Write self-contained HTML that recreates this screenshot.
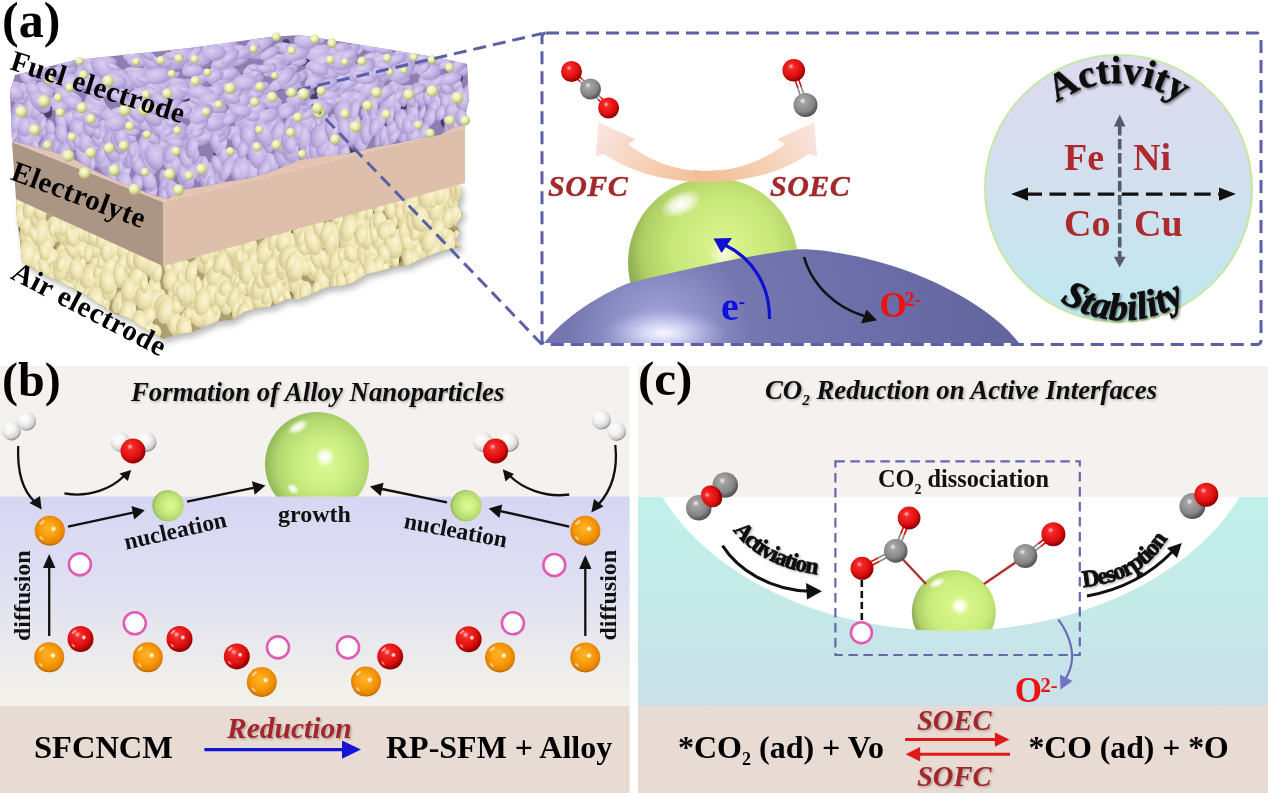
<!DOCTYPE html>
<html><head><meta charset="utf-8">
<style>
html,body{margin:0;padding:0;background:#fff;width:1268px;height:796px;overflow:hidden}
svg{display:block;will-change:transform}
text{font-family:"Liberation Serif",serif;font-weight:bold}
</style></head><body>
<svg width="1268" height="796" viewBox="0 0 1268 796">
<defs>
 <radialGradient id="gG" cx="0.55" cy="0.5" r="0.55" fx="0.58" fy="0.5">
  <stop offset="0" stop-color="#dcfa94"/><stop offset="0.45" stop-color="#cbee80"/><stop offset="0.8" stop-color="#b4d870"/><stop offset="1" stop-color="#90b65a"/>
 </radialGradient>
 <radialGradient id="gR" cx="0.42" cy="0.38" r="0.62" fx="0.38" fy="0.32">
  <stop offset="0" stop-color="#ffc0c0"/><stop offset="0.2" stop-color="#f42a2a"/><stop offset="0.72" stop-color="#dc0c0c"/><stop offset="1" stop-color="#880000"/>
 </radialGradient>
 <radialGradient id="gO" cx="0.5" cy="0.45" r="0.56" fx="0.45" fy="0.4">
  <stop offset="0" stop-color="#ffb52a"/><stop offset="0.55" stop-color="#f89a0a"/><stop offset="0.86" stop-color="#e48400"/><stop offset="1" stop-color="#a85a00"/>
 </radialGradient>
 <radialGradient id="gC" cx="0.42" cy="0.38" r="0.62" fx="0.38" fy="0.32">
  <stop offset="0" stop-color="#f4f4f4"/><stop offset="0.2" stop-color="#a4a4a4"/><stop offset="0.7" stop-color="#868686"/><stop offset="1" stop-color="#505050"/>
 </radialGradient>
 <radialGradient id="gH" cx="0.42" cy="0.38" r="0.62" fx="0.35" fy="0.3">
  <stop offset="0" stop-color="#ffffff"/><stop offset="0.5" stop-color="#f2f2f2"/><stop offset="0.85" stop-color="#cfcfcf"/><stop offset="1" stop-color="#8a8a8a"/>
 </radialGradient>
 <radialGradient id="gY" cx="0.42" cy="0.38" r="0.62" fx="0.35" fy="0.3">
  <stop offset="0" stop-color="#fbfde0"/><stop offset="0.5" stop-color="#e4ec9e"/><stop offset="1" stop-color="#b4bd6a"/>
 </radialGradient>
 <radialGradient id="gDome" gradientUnits="userSpaceOnUse" cx="660" cy="335" r="360">
  <stop offset="0" stop-color="#b4b6e6"/><stop offset="0.1" stop-color="#9496cc"/><stop offset="0.25" stop-color="#7577b1"/><stop offset="0.5" stop-color="#6e70ab"/><stop offset="1" stop-color="#62649c"/>
 </radialGradient>
 <radialGradient id="gDomeHi"><stop offset="0" stop-color="#f8f8ff" stop-opacity="1"/><stop offset="0.35" stop-color="#e0e0fa" stop-opacity="0.8"/><stop offset="1" stop-color="#c0c0f0" stop-opacity="0"/></radialGradient>
 <radialGradient id="gSpot"><stop offset="0" stop-color="#fffbe8" stop-opacity="0.95"/><stop offset="1" stop-color="#fffbe8" stop-opacity="0"/></radialGradient>
 <linearGradient id="gCirc" x1="0" y1="0" x2="0" y2="1">
  <stop offset="0" stop-color="#dedaf0"/><stop offset="0.5" stop-color="#d2e0ee"/><stop offset="1" stop-color="#bde9ef"/>
 </linearGradient>
 <linearGradient id="gBand" x1="0" y1="0" x2="0" y2="1">
  <stop offset="0" stop-color="#d6d6f3"/><stop offset="0.45" stop-color="#e0e0f2"/><stop offset="0.85" stop-color="#efeeea"/><stop offset="1" stop-color="#f3f1eb"/>
 </linearGradient>
 <linearGradient id="gCyan" x1="0" y1="0" x2="0" y2="1">
  <stop offset="0" stop-color="#c0f0ea"/><stop offset="0.5" stop-color="#c4eae8"/><stop offset="1" stop-color="#cbdfea"/>
 </linearGradient>
 <linearGradient id="gPeachL" gradientUnits="userSpaceOnUse" x1="598" y1="130" x2="705" y2="180">
  <stop offset="0" stop-color="#f9e4e0"/><stop offset="0.5" stop-color="#f6d0b4"/><stop offset="1" stop-color="#f2bf96"/>
 </linearGradient>
 <linearGradient id="gPeachR" gradientUnits="userSpaceOnUse" x1="815" y1="130" x2="708" y2="180">
  <stop offset="0" stop-color="#f9e4e0"/><stop offset="0.5" stop-color="#f6d0b4"/><stop offset="1" stop-color="#f2bf96"/>
 </linearGradient>
 <radialGradient id="gGa" gradientUnits="userSpaceOnUse" cx="725" cy="250" r="100" fx="722" fy="245">
  <stop offset="0" stop-color="#dcf590"/><stop offset="0.5" stop-color="#c8e87a"/><stop offset="0.82" stop-color="#b0d066"/><stop offset="1" stop-color="#8aa850"/>
 </radialGradient>
 <linearGradient id="gPeach" gradientUnits="userSpaceOnUse" x1="705" y1="120" x2="705" y2="180">
  <stop offset="0" stop-color="#fbe6e0"/><stop offset="1" stop-color="#f4c49c"/>
 </linearGradient>
 <filter id="texP" x="0" y="0" width="100%" height="100%" filterUnits="objectBoundingBox" color-interpolation-filters="sRGB">
  <feTurbulence type="fractalNoise" baseFrequency="0.05 0.04" numOctaves="2" seed="7" result="n"/>
  <feDiffuseLighting in="n" surfaceScale="8" diffuseConstant="1.15" lighting-color="#ffffff" result="l"><feDistantLight azimuth="235" elevation="52"/></feDiffuseLighting>
  <feFlood flood-color="#bdb0dc" result="f"/>
  <feComposite in="l" in2="f" operator="arithmetic" k1="0.5" k3="0.56" result="o"/>
  <feColorMatrix in="n" type="matrix" values="0 0 0 0 0.36  0 0 0 0 0.3  0 0 0 0 0.48  -22 0 0 0 6.2" result="d"/>
  <feGaussianBlur in="d" stdDeviation="0.6" result="db"/>
  <feComposite in="db" in2="o" operator="over" result="o2"/>
  <feComposite in="o2" in2="SourceAlpha" operator="in"/>
 </filter>
 <filter id="texY" x="0" y="0" width="100%" height="100%" filterUnits="objectBoundingBox" color-interpolation-filters="sRGB">
  <feTurbulence type="fractalNoise" baseFrequency="0.05 0.04" numOctaves="2" seed="11" result="n"/>
  <feDiffuseLighting in="n" surfaceScale="8" diffuseConstant="1.15" lighting-color="#ffffff" result="l"><feDistantLight azimuth="235" elevation="52"/></feDiffuseLighting>
  <feFlood flood-color="#eee6b0" result="f"/>
  <feComposite in="l" in2="f" operator="arithmetic" k1="0.5" k3="0.56" result="o"/>
  <feColorMatrix in="n" type="matrix" values="0 0 0 0 0.45  0 0 0 0 0.41  0 0 0 0 0.25  -22 0 0 0 6.2" result="d"/>
  <feGaussianBlur in="d" stdDeviation="0.6" result="db"/>
  <feComposite in="db" in2="o" operator="over" result="o2"/>
  <feComposite in="o2" in2="SourceAlpha" operator="in"/>
 </filter>
 <radialGradient id="gYb" cx="0.4" cy="0.35" r="0.65"><stop offset="0" stop-color="#fbfde6"/><stop offset="0.5" stop-color="#e6eca8"/><stop offset="1" stop-color="#aab070"/></radialGradient>
 <filter id="sh2" x="-5%" y="-20%" width="110%" height="150%"><feDropShadow dx="1.2" dy="1.2" stdDeviation="1" flood-color="#000" flood-opacity="0.3"/></filter>
 <radialGradient id="gG2" gradientUnits="userSpaceOnUse" cx="958" cy="607" r="46" fx="960" fy="606">
  <stop offset="0" stop-color="#ffffff"/><stop offset="0.09" stop-color="#fcffe0"/><stop offset="0.2" stop-color="#d6f58a"/><stop offset="0.65" stop-color="#c8ec7a"/><stop offset="0.9" stop-color="#aed06a"/><stop offset="1" stop-color="#90b058"/>
 </radialGradient>
 <radialGradient id="gWh"><stop offset="0" stop-color="#ffffff" stop-opacity="1"/><stop offset="0.5" stop-color="#ffffff" stop-opacity="0.7"/><stop offset="1" stop-color="#ffffff" stop-opacity="0"/></radialGradient>
 <radialGradient id="gPB" cx="0.4" cy="0.35" r="0.7"><stop offset="0" stop-color="#dcd0f2"/><stop offset="0.55" stop-color="#c4b5e5"/><stop offset="1" stop-color="#a292ca"/></radialGradient>
 <radialGradient id="gYB" cx="0.4" cy="0.35" r="0.7"><stop offset="0" stop-color="#fbf5d4"/><stop offset="0.55" stop-color="#eee4b0"/><stop offset="1" stop-color="#cfc290"/></radialGradient>
 <filter id="soft" x="-2%" y="-2%" width="104%" height="104%"><feGaussianBlur stdDeviation="0.7"/></filter>
 <filter id="blur3" x="-10%" y="-10%" width="120%" height="130%"><feGaussianBlur stdDeviation="3"/></filter>
 <filter id="sh" x="-10%" y="-10%" width="130%" height="130%"><feDropShadow dx="1.5" dy="1.5" stdDeviation="1.2" flood-color="#000" flood-opacity="0.45"/></filter>
 <marker id="ahK" viewBox="0 0 10 10" refX="8" refY="5" markerWidth="5" markerHeight="5" orient="auto"><path d="M0,0 L10,5 L0,10 z" fill="#111"/></marker>
</defs>

<!-- ============ PANEL (a) ============ -->
<g id="pa">
 <clipPath id="cpY"><path d="M16.0,199.0 L163.0,266.0 L460.0,183.0 L461.0,196.0 L457.0,205.0 L463.0,214.0 L456.0,224.0 L460.0,232.0 L455.0,240.0 L462.0,247.0 L447.9,249.1 L434.6,253.6 L420.4,259.0 L408.5,265.3 L394.6,266.5 L380.5,270.9 L366.2,274.2 L352.7,282.7 L340.3,286.2 L326.7,287.2 L312.1,293.7 L299.4,299.0 L286.1,299.2 L271.9,306.4 L258.1,308.1 L244.5,311.8 L231.8,320.0 L217.5,321.2 L204.6,326.8 L190.9,332.4 L176.6,334.4 L163.0,339.0 L151.4,332.3 L138.8,325.3 L128.4,317.7 L115.1,313.9 L103.8,307.1 L92.4,299.8 L81.7,292.7 L68.8,286.4 L57.5,280.3 L45.2,275.9 L33.4,268.7 L22.0,262.0 L20.0,240.0 L17.0,220.0 Z"/></clipPath>
 <clipPath id="cpP"><path d="M10,92 L15,75 L75,60 L190,48 L270,37 L300,35 L380,48 L440,58 L467,64 L469,100 L466,112 L468,124 L452,128 L440,135 L420,138 L400,143 L380,146 L350,153 L325,156 L300,160 L275,170 L250,178 L225,182 L200,187 L180,190 L168,199 L150,194 L120,182 L95,171 L70,157 L40,148 L12,141 Z"/></clipPath>
 <path d="M16.0,199.0 L163.0,266.0 L460.0,183.0 L461.0,196.0 L457.0,205.0 L463.0,214.0 L456.0,224.0 L460.0,232.0 L455.0,240.0 L462.0,247.0 L447.9,249.1 L434.6,253.6 L420.4,259.0 L408.5,265.3 L394.6,266.5 L380.5,270.9 L366.2,274.2 L352.7,282.7 L340.3,286.2 L326.7,287.2 L312.1,293.7 L299.4,299.0 L286.1,299.2 L271.9,306.4 L258.1,308.1 L244.5,311.8 L231.8,320.0 L217.5,321.2 L204.6,326.8 L190.9,332.4 L176.6,334.4 L163.0,339.0 L151.4,332.3 L138.8,325.3 L128.4,317.7 L115.1,313.9 L103.8,307.1 L92.4,299.8 L81.7,292.7 L68.8,286.4 L57.5,280.3 L45.2,275.9 L33.4,268.7 L22.0,262.0 L20.0,240.0 L17.0,220.0 Z" fill="#000" opacity="0.28" transform="translate(3,4)" filter="url(#blur3)"/>
 <path d="M16.0,199.0 L163.0,266.0 L460.0,183.0 L461.0,196.0 L457.0,205.0 L463.0,214.0 L456.0,224.0 L460.0,232.0 L455.0,240.0 L462.0,247.0 L447.9,249.1 L434.6,253.6 L420.4,259.0 L408.5,265.3 L394.6,266.5 L380.5,270.9 L366.2,274.2 L352.7,282.7 L340.3,286.2 L326.7,287.2 L312.1,293.7 L299.4,299.0 L286.1,299.2 L271.9,306.4 L258.1,308.1 L244.5,311.8 L231.8,320.0 L217.5,321.2 L204.6,326.8 L190.9,332.4 L176.6,334.4 L163.0,339.0 L151.4,332.3 L138.8,325.3 L128.4,317.7 L115.1,313.9 L103.8,307.1 L92.4,299.8 L81.7,292.7 L68.8,286.4 L57.5,280.3 L45.2,275.9 L33.4,268.7 L22.0,262.0 L20.0,240.0 L17.0,220.0 Z" fill="#aca070"/>
 <g clip-path="url(#cpY)"><g fill="#6e6234"><ellipse cx="300" cy="229" rx="4" ry="2" transform="rotate(32 300 229)"/><ellipse cx="33" cy="268" rx="4" ry="3" transform="rotate(1 33 268)"/><ellipse cx="181" cy="299" rx="3" ry="2" transform="rotate(59 181 299)"/><ellipse cx="231" cy="282" rx="3" ry="3" transform="rotate(49 231 282)"/><ellipse cx="52" cy="222" rx="4" ry="2" transform="rotate(153 52 222)"/><ellipse cx="251" cy="261" rx="5" ry="4" transform="rotate(8 251 261)"/><ellipse cx="155" cy="274" rx="3" ry="2" transform="rotate(172 155 274)"/><ellipse cx="260" cy="288" rx="6" ry="5" transform="rotate(147 260 288)"/><ellipse cx="329" cy="232" rx="7" ry="5" transform="rotate(56 329 232)"/><ellipse cx="367" cy="218" rx="4" ry="3" transform="rotate(10 367 218)"/><ellipse cx="405" cy="245" rx="5" ry="4" transform="rotate(162 405 245)"/><ellipse cx="54" cy="272" rx="3" ry="2" transform="rotate(70 54 272)"/><ellipse cx="376" cy="211" rx="6" ry="3" transform="rotate(134 376 211)"/><ellipse cx="433" cy="224" rx="4" ry="2" transform="rotate(155 433 224)"/><ellipse cx="85" cy="297" rx="3" ry="2" transform="rotate(97 85 297)"/><ellipse cx="264" cy="296" rx="4" ry="3" transform="rotate(137 264 296)"/><ellipse cx="380" cy="254" rx="5" ry="2" transform="rotate(83 380 254)"/><ellipse cx="416" cy="236" rx="6" ry="5" transform="rotate(173 416 236)"/><ellipse cx="320" cy="235" rx="6" ry="3" transform="rotate(102 320 235)"/><ellipse cx="157" cy="292" rx="4" ry="2" transform="rotate(102 157 292)"/><ellipse cx="437" cy="207" rx="4" ry="2" transform="rotate(57 437 207)"/><ellipse cx="233" cy="312" rx="4" ry="3" transform="rotate(78 233 312)"/><ellipse cx="271" cy="262" rx="5" ry="3" transform="rotate(111 271 262)"/><ellipse cx="195" cy="306" rx="5" ry="3" transform="rotate(178 195 306)"/><ellipse cx="69" cy="291" rx="3" ry="3" transform="rotate(16 69 291)"/><ellipse cx="148" cy="281" rx="3" ry="2" transform="rotate(180 148 281)"/><ellipse cx="341" cy="244" rx="7" ry="5" transform="rotate(146 341 244)"/><ellipse cx="330" cy="281" rx="3" ry="3" transform="rotate(179 330 281)"/><ellipse cx="279" cy="240" rx="6" ry="3" transform="rotate(51 279 240)"/><ellipse cx="396" cy="260" rx="6" ry="5" transform="rotate(120 396 260)"/><ellipse cx="50" cy="248" rx="7" ry="5" transform="rotate(64 50 248)"/><ellipse cx="339" cy="225" rx="6" ry="4" transform="rotate(151 339 225)"/><ellipse cx="291" cy="234" rx="7" ry="4" transform="rotate(142 291 234)"/><ellipse cx="389" cy="242" rx="5" ry="3" transform="rotate(68 389 242)"/><ellipse cx="211" cy="295" rx="5" ry="2" transform="rotate(117 211 295)"/><ellipse cx="246" cy="265" rx="5" ry="4" transform="rotate(118 246 265)"/><ellipse cx="311" cy="262" rx="5" ry="3" transform="rotate(122 311 262)"/><ellipse cx="36" cy="239" rx="5" ry="3" transform="rotate(36 36 239)"/><ellipse cx="119" cy="253" rx="4" ry="2" transform="rotate(88 119 253)"/><ellipse cx="102" cy="307" rx="5" ry="4" transform="rotate(13 102 307)"/><ellipse cx="199" cy="313" rx="5" ry="3" transform="rotate(33 199 313)"/><ellipse cx="21" cy="230" rx="3" ry="2" transform="rotate(62 21 230)"/><ellipse cx="450" cy="220" rx="6" ry="4" transform="rotate(45 450 220)"/><ellipse cx="34" cy="219" rx="7" ry="5" transform="rotate(60 34 219)"/><ellipse cx="396" cy="234" rx="7" ry="4" transform="rotate(157 396 234)"/><ellipse cx="75" cy="245" rx="4" ry="3" transform="rotate(156 75 245)"/><ellipse cx="75" cy="247" rx="4" ry="2" transform="rotate(23 75 247)"/><ellipse cx="47" cy="230" rx="5" ry="4" transform="rotate(117 47 230)"/><ellipse cx="356" cy="235" rx="4" ry="3" transform="rotate(42 356 235)"/><ellipse cx="23" cy="226" rx="7" ry="3" transform="rotate(91 23 226)"/><ellipse cx="118" cy="303" rx="3" ry="2" transform="rotate(130 118 303)"/><ellipse cx="180" cy="281" rx="5" ry="3" transform="rotate(68 180 281)"/><ellipse cx="398" cy="231" rx="5" ry="2" transform="rotate(11 398 231)"/><ellipse cx="411" cy="239" rx="4" ry="4" transform="rotate(130 411 239)"/><ellipse cx="84" cy="268" rx="5" ry="3" transform="rotate(49 84 268)"/><ellipse cx="282" cy="269" rx="6" ry="4" transform="rotate(32 282 269)"/><ellipse cx="366" cy="259" rx="4" ry="2" transform="rotate(178 366 259)"/><ellipse cx="239" cy="283" rx="5" ry="4" transform="rotate(96 239 283)"/><ellipse cx="109" cy="254" rx="5" ry="3" transform="rotate(117 109 254)"/><ellipse cx="378" cy="207" rx="6" ry="5" transform="rotate(178 378 207)"/><ellipse cx="72" cy="285" rx="4" ry="3" transform="rotate(92 72 285)"/><ellipse cx="423" cy="229" rx="4" ry="2" transform="rotate(52 423 229)"/><ellipse cx="74" cy="283" rx="3" ry="2" transform="rotate(145 74 283)"/><ellipse cx="397" cy="236" rx="6" ry="5" transform="rotate(117 397 236)"/><ellipse cx="244" cy="268" rx="4" ry="2" transform="rotate(4 244 268)"/><ellipse cx="254" cy="284" rx="5" ry="2" transform="rotate(134 254 284)"/><ellipse cx="153" cy="290" rx="6" ry="3" transform="rotate(70 153 290)"/><ellipse cx="187" cy="269" rx="6" ry="3" transform="rotate(68 187 269)"/><ellipse cx="428" cy="211" rx="4" ry="3" transform="rotate(112 428 211)"/><ellipse cx="228" cy="255" rx="3" ry="2" transform="rotate(48 228 255)"/><ellipse cx="291" cy="295" rx="3" ry="1" transform="rotate(71 291 295)"/><ellipse cx="88" cy="277" rx="4" ry="2" transform="rotate(85 88 277)"/><ellipse cx="451" cy="233" rx="4" ry="2" transform="rotate(119 451 233)"/><ellipse cx="333" cy="266" rx="3" ry="3" transform="rotate(23 333 266)"/><ellipse cx="147" cy="269" rx="5" ry="4" transform="rotate(27 147 269)"/><ellipse cx="66" cy="293" rx="6" ry="3" transform="rotate(6 66 293)"/><ellipse cx="104" cy="273" rx="3" ry="3" transform="rotate(3 104 273)"/><ellipse cx="187" cy="311" rx="4" ry="3" transform="rotate(103 187 311)"/><ellipse cx="91" cy="300" rx="5" ry="3" transform="rotate(85 91 300)"/><ellipse cx="269" cy="275" rx="5" ry="4" transform="rotate(85 269 275)"/></g><g fill="url(#gYB)" filter="url(#soft)"><ellipse cx="160" cy="299" rx="10" ry="6" transform="rotate(99 160 299)"/><ellipse cx="250" cy="305" rx="8" ry="3" transform="rotate(101 250 305)"/><ellipse cx="370" cy="263" rx="11" ry="5" transform="rotate(66 370 263)"/><ellipse cx="386" cy="243" rx="13" ry="6" transform="rotate(87 386 243)"/><ellipse cx="259" cy="301" rx="11" ry="6" transform="rotate(74 259 301)"/><ellipse cx="304" cy="252" rx="12" ry="5" transform="rotate(80 304 252)"/><ellipse cx="368" cy="265" rx="9" ry="5" transform="rotate(65 368 265)"/><ellipse cx="257" cy="292" rx="8" ry="4" transform="rotate(96 257 292)"/><ellipse cx="197" cy="287" rx="9" ry="6" transform="rotate(75 197 287)"/><ellipse cx="234" cy="249" rx="11" ry="4" transform="rotate(77 234 249)"/><ellipse cx="265" cy="301" rx="13" ry="7" transform="rotate(100 265 301)"/><ellipse cx="234" cy="263" rx="10" ry="4" transform="rotate(75 234 263)"/><ellipse cx="374" cy="264" rx="7" ry="4" transform="rotate(107 374 264)"/><ellipse cx="447" cy="208" rx="11" ry="6" transform="rotate(73 447 208)"/><ellipse cx="306" cy="290" rx="9" ry="6" transform="rotate(86 306 290)"/><ellipse cx="307" cy="256" rx="12" ry="8" transform="rotate(80 307 256)"/><ellipse cx="353" cy="278" rx="8" ry="5" transform="rotate(74 353 278)"/><ellipse cx="176" cy="301" rx="8" ry="3" transform="rotate(86 176 301)"/><ellipse cx="82" cy="301" rx="12" ry="6" transform="rotate(69 82 301)"/><ellipse cx="358" cy="262" rx="14" ry="7" transform="rotate(87 358 262)"/><ellipse cx="413" cy="236" rx="7" ry="4" transform="rotate(96 413 236)"/><ellipse cx="86" cy="290" rx="10" ry="5" transform="rotate(79 86 290)"/><ellipse cx="175" cy="301" rx="11" ry="5" transform="rotate(68 175 301)"/><ellipse cx="37" cy="225" rx="10" ry="5" transform="rotate(106 37 225)"/><ellipse cx="287" cy="269" rx="7" ry="4" transform="rotate(91 287 269)"/><ellipse cx="80" cy="259" rx="10" ry="6" transform="rotate(99 80 259)"/><ellipse cx="135" cy="280" rx="9" ry="5" transform="rotate(75 135 280)"/><ellipse cx="377" cy="267" rx="13" ry="9" transform="rotate(105 377 267)"/><ellipse cx="308" cy="242" rx="13" ry="9" transform="rotate(92 308 242)"/><ellipse cx="410" cy="227" rx="7" ry="5" transform="rotate(84 410 227)"/><ellipse cx="365" cy="254" rx="14" ry="6" transform="rotate(89 365 254)"/><ellipse cx="431" cy="234" rx="12" ry="5" transform="rotate(69 431 234)"/><ellipse cx="366" cy="263" rx="12" ry="7" transform="rotate(93 366 263)"/><ellipse cx="46" cy="250" rx="9" ry="6" transform="rotate(67 46 250)"/><ellipse cx="109" cy="278" rx="11" ry="6" transform="rotate(82 109 278)"/><ellipse cx="73" cy="295" rx="10" ry="6" transform="rotate(106 73 295)"/><ellipse cx="43" cy="249" rx="9" ry="6" transform="rotate(96 43 249)"/><ellipse cx="99" cy="254" rx="7" ry="4" transform="rotate(68 99 254)"/><ellipse cx="72" cy="263" rx="11" ry="5" transform="rotate(94 72 263)"/><ellipse cx="152" cy="296" rx="7" ry="5" transform="rotate(87 152 296)"/><ellipse cx="429" cy="214" rx="10" ry="4" transform="rotate(88 429 214)"/><ellipse cx="451" cy="209" rx="8" ry="5" transform="rotate(97 451 209)"/><ellipse cx="402" cy="213" rx="9" ry="5" transform="rotate(96 402 213)"/><ellipse cx="297" cy="270" rx="9" ry="4" transform="rotate(69 297 270)"/><ellipse cx="450" cy="202" rx="14" ry="8" transform="rotate(65 450 202)"/><ellipse cx="215" cy="258" rx="9" ry="6" transform="rotate(109 215 258)"/><ellipse cx="238" cy="312" rx="9" ry="6" transform="rotate(104 238 312)"/><ellipse cx="170" cy="302" rx="9" ry="4" transform="rotate(86 170 302)"/><ellipse cx="124" cy="261" rx="13" ry="7" transform="rotate(110 124 261)"/><ellipse cx="313" cy="270" rx="11" ry="7" transform="rotate(80 313 270)"/><ellipse cx="96" cy="262" rx="9" ry="6" transform="rotate(97 96 262)"/><ellipse cx="293" cy="244" rx="12" ry="6" transform="rotate(71 293 244)"/><ellipse cx="50" cy="281" rx="11" ry="7" transform="rotate(90 50 281)"/><ellipse cx="410" cy="250" rx="13" ry="8" transform="rotate(105 410 250)"/><ellipse cx="112" cy="259" rx="13" ry="8" transform="rotate(94 112 259)"/><ellipse cx="142" cy="281" rx="12" ry="6" transform="rotate(80 142 281)"/><ellipse cx="458" cy="193" rx="11" ry="7" transform="rotate(113 458 193)"/><ellipse cx="342" cy="224" rx="8" ry="3" transform="rotate(78 342 224)"/><ellipse cx="65" cy="264" rx="14" ry="7" transform="rotate(92 65 264)"/><ellipse cx="347" cy="235" rx="10" ry="7" transform="rotate(68 347 235)"/><ellipse cx="447" cy="202" rx="8" ry="4" transform="rotate(104 447 202)"/><ellipse cx="268" cy="289" rx="7" ry="3" transform="rotate(94 268 289)"/><ellipse cx="50" cy="230" rx="10" ry="5" transform="rotate(74 50 230)"/><ellipse cx="432" cy="198" rx="11" ry="6" transform="rotate(107 432 198)"/><ellipse cx="284" cy="281" rx="13" ry="9" transform="rotate(72 284 281)"/><ellipse cx="330" cy="237" rx="7" ry="5" transform="rotate(71 330 237)"/><ellipse cx="132" cy="265" rx="7" ry="5" transform="rotate(101 132 265)"/><ellipse cx="62" cy="282" rx="8" ry="4" transform="rotate(70 62 282)"/><ellipse cx="259" cy="288" rx="13" ry="7" transform="rotate(83 259 288)"/><ellipse cx="104" cy="302" rx="10" ry="4" transform="rotate(75 104 302)"/><ellipse cx="202" cy="318" rx="10" ry="6" transform="rotate(89 202 318)"/><ellipse cx="197" cy="299" rx="8" ry="4" transform="rotate(78 197 299)"/><ellipse cx="99" cy="274" rx="7" ry="3" transform="rotate(78 99 274)"/><ellipse cx="152" cy="263" rx="13" ry="8" transform="rotate(108 152 263)"/><ellipse cx="60" cy="251" rx="9" ry="4" transform="rotate(115 60 251)"/><ellipse cx="259" cy="259" rx="13" ry="9" transform="rotate(106 259 259)"/><ellipse cx="440" cy="227" rx="12" ry="7" transform="rotate(89 440 227)"/><ellipse cx="393" cy="244" rx="13" ry="6" transform="rotate(82 393 244)"/><ellipse cx="129" cy="308" rx="9" ry="4" transform="rotate(86 129 308)"/><ellipse cx="182" cy="271" rx="12" ry="6" transform="rotate(115 182 271)"/><ellipse cx="126" cy="304" rx="8" ry="5" transform="rotate(92 126 304)"/><ellipse cx="415" cy="199" rx="13" ry="9" transform="rotate(83 415 199)"/><ellipse cx="269" cy="242" rx="9" ry="6" transform="rotate(104 269 242)"/><ellipse cx="444" cy="189" rx="11" ry="7" transform="rotate(76 444 189)"/><ellipse cx="98" cy="246" rx="9" ry="5" transform="rotate(103 98 246)"/><ellipse cx="50" cy="246" rx="10" ry="4" transform="rotate(110 50 246)"/><ellipse cx="46" cy="268" rx="9" ry="6" transform="rotate(97 46 268)"/><ellipse cx="290" cy="261" rx="11" ry="6" transform="rotate(110 290 261)"/><ellipse cx="34" cy="216" rx="13" ry="6" transform="rotate(82 34 216)"/><ellipse cx="264" cy="298" rx="9" ry="6" transform="rotate(83 264 298)"/><ellipse cx="154" cy="272" rx="11" ry="6" transform="rotate(67 154 272)"/><ellipse cx="364" cy="277" rx="13" ry="9" transform="rotate(78 364 277)"/><ellipse cx="298" cy="235" rx="8" ry="4" transform="rotate(77 298 235)"/><ellipse cx="299" cy="288" rx="11" ry="8" transform="rotate(65 299 288)"/><ellipse cx="178" cy="331" rx="10" ry="7" transform="rotate(74 178 331)"/><ellipse cx="171" cy="312" rx="9" ry="6" transform="rotate(95 171 312)"/><ellipse cx="329" cy="259" rx="11" ry="6" transform="rotate(79 329 259)"/><ellipse cx="62" cy="263" rx="14" ry="9" transform="rotate(98 62 263)"/><ellipse cx="77" cy="287" rx="14" ry="9" transform="rotate(107 77 287)"/><ellipse cx="154" cy="301" rx="14" ry="9" transform="rotate(114 154 301)"/><ellipse cx="332" cy="248" rx="11" ry="7" transform="rotate(94 332 248)"/><ellipse cx="357" cy="215" rx="12" ry="8" transform="rotate(65 357 215)"/><ellipse cx="440" cy="250" rx="13" ry="5" transform="rotate(81 440 250)"/><ellipse cx="61" cy="225" rx="10" ry="6" transform="rotate(102 61 225)"/><ellipse cx="252" cy="302" rx="13" ry="7" transform="rotate(99 252 302)"/><ellipse cx="79" cy="288" rx="11" ry="5" transform="rotate(110 79 288)"/><ellipse cx="444" cy="197" rx="12" ry="7" transform="rotate(111 444 197)"/><ellipse cx="156" cy="331" rx="7" ry="5" transform="rotate(66 156 331)"/><ellipse cx="156" cy="277" rx="10" ry="4" transform="rotate(107 156 277)"/><ellipse cx="236" cy="312" rx="7" ry="3" transform="rotate(76 236 312)"/><ellipse cx="186" cy="320" rx="13" ry="6" transform="rotate(102 186 320)"/><ellipse cx="173" cy="307" rx="12" ry="5" transform="rotate(88 173 307)"/><ellipse cx="264" cy="294" rx="10" ry="5" transform="rotate(106 264 294)"/><ellipse cx="447" cy="242" rx="13" ry="9" transform="rotate(100 447 242)"/><ellipse cx="178" cy="303" rx="11" ry="7" transform="rotate(90 178 303)"/><ellipse cx="301" cy="293" rx="11" ry="5" transform="rotate(93 301 293)"/><ellipse cx="205" cy="292" rx="12" ry="6" transform="rotate(83 205 292)"/><ellipse cx="234" cy="253" rx="14" ry="9" transform="rotate(108 234 253)"/><ellipse cx="90" cy="292" rx="11" ry="6" transform="rotate(90 90 292)"/><ellipse cx="197" cy="292" rx="11" ry="5" transform="rotate(90 197 292)"/><ellipse cx="123" cy="275" rx="10" ry="6" transform="rotate(113 123 275)"/><ellipse cx="183" cy="276" rx="9" ry="6" transform="rotate(92 183 276)"/><ellipse cx="273" cy="287" rx="11" ry="8" transform="rotate(87 273 287)"/><ellipse cx="179" cy="304" rx="11" ry="5" transform="rotate(111 179 304)"/><ellipse cx="290" cy="263" rx="9" ry="4" transform="rotate(87 290 263)"/><ellipse cx="259" cy="277" rx="10" ry="7" transform="rotate(107 259 277)"/><ellipse cx="320" cy="238" rx="12" ry="6" transform="rotate(100 320 238)"/><ellipse cx="241" cy="284" rx="13" ry="9" transform="rotate(89 241 284)"/><ellipse cx="187" cy="298" rx="12" ry="5" transform="rotate(90 187 298)"/><ellipse cx="137" cy="287" rx="8" ry="4" transform="rotate(78 137 287)"/><ellipse cx="137" cy="273" rx="13" ry="8" transform="rotate(97 137 273)"/><ellipse cx="359" cy="243" rx="10" ry="6" transform="rotate(75 359 243)"/><ellipse cx="430" cy="215" rx="8" ry="5" transform="rotate(82 430 215)"/><ellipse cx="91" cy="280" rx="11" ry="6" transform="rotate(91 91 280)"/><ellipse cx="389" cy="256" rx="11" ry="5" transform="rotate(69 389 256)"/><ellipse cx="217" cy="292" rx="9" ry="6" transform="rotate(79 217 292)"/><ellipse cx="234" cy="256" rx="14" ry="6" transform="rotate(78 234 256)"/><ellipse cx="300" cy="238" rx="9" ry="4" transform="rotate(111 300 238)"/><ellipse cx="212" cy="275" rx="9" ry="6" transform="rotate(70 212 275)"/><ellipse cx="446" cy="251" rx="13" ry="5" transform="rotate(77 446 251)"/><ellipse cx="26" cy="221" rx="10" ry="5" transform="rotate(84 26 221)"/><ellipse cx="247" cy="274" rx="11" ry="7" transform="rotate(88 247 274)"/><ellipse cx="62" cy="228" rx="10" ry="5" transform="rotate(76 62 228)"/><ellipse cx="405" cy="228" rx="11" ry="6" transform="rotate(72 405 228)"/><ellipse cx="258" cy="300" rx="13" ry="9" transform="rotate(71 258 300)"/><ellipse cx="219" cy="290" rx="10" ry="7" transform="rotate(90 219 290)"/><ellipse cx="187" cy="295" rx="13" ry="7" transform="rotate(108 187 295)"/><ellipse cx="358" cy="247" rx="12" ry="7" transform="rotate(71 358 247)"/><ellipse cx="419" cy="217" rx="12" ry="5" transform="rotate(90 419 217)"/><ellipse cx="147" cy="262" rx="10" ry="5" transform="rotate(87 147 262)"/><ellipse cx="204" cy="262" rx="12" ry="9" transform="rotate(78 204 262)"/><ellipse cx="144" cy="265" rx="7" ry="4" transform="rotate(67 144 265)"/><ellipse cx="282" cy="276" rx="10" ry="7" transform="rotate(81 282 276)"/><ellipse cx="119" cy="302" rx="12" ry="6" transform="rotate(109 119 302)"/><ellipse cx="271" cy="267" rx="13" ry="6" transform="rotate(110 271 267)"/><ellipse cx="299" cy="294" rx="11" ry="5" transform="rotate(93 299 294)"/><ellipse cx="126" cy="307" rx="12" ry="5" transform="rotate(100 126 307)"/><ellipse cx="241" cy="246" rx="11" ry="7" transform="rotate(95 241 246)"/><ellipse cx="352" cy="256" rx="13" ry="8" transform="rotate(90 352 256)"/><ellipse cx="41" cy="265" rx="10" ry="6" transform="rotate(79 41 265)"/><ellipse cx="425" cy="259" rx="13" ry="6" transform="rotate(109 425 259)"/><ellipse cx="260" cy="269" rx="10" ry="7" transform="rotate(93 260 269)"/><ellipse cx="43" cy="239" rx="7" ry="4" transform="rotate(70 43 239)"/><ellipse cx="425" cy="231" rx="9" ry="5" transform="rotate(80 425 231)"/><ellipse cx="342" cy="228" rx="13" ry="6" transform="rotate(68 342 228)"/><ellipse cx="129" cy="286" rx="10" ry="5" transform="rotate(79 129 286)"/><ellipse cx="257" cy="287" rx="13" ry="6" transform="rotate(93 257 287)"/><ellipse cx="434" cy="246" rx="10" ry="7" transform="rotate(94 434 246)"/><ellipse cx="287" cy="265" rx="12" ry="6" transform="rotate(84 287 265)"/><ellipse cx="57" cy="231" rx="13" ry="6" transform="rotate(109 57 231)"/><ellipse cx="105" cy="301" rx="12" ry="5" transform="rotate(91 105 301)"/><ellipse cx="440" cy="222" rx="12" ry="7" transform="rotate(93 440 222)"/><ellipse cx="308" cy="236" rx="13" ry="6" transform="rotate(106 308 236)"/><ellipse cx="389" cy="207" rx="11" ry="6" transform="rotate(71 389 207)"/><ellipse cx="429" cy="235" rx="11" ry="5" transform="rotate(113 429 235)"/><ellipse cx="68" cy="289" rx="10" ry="6" transform="rotate(76 68 289)"/><ellipse cx="349" cy="245" rx="11" ry="5" transform="rotate(98 349 245)"/><ellipse cx="207" cy="310" rx="9" ry="5" transform="rotate(69 207 310)"/><ellipse cx="26" cy="213" rx="7" ry="4" transform="rotate(84 26 213)"/><ellipse cx="391" cy="238" rx="9" ry="5" transform="rotate(83 391 238)"/><ellipse cx="363" cy="235" rx="11" ry="5" transform="rotate(86 363 235)"/><ellipse cx="429" cy="220" rx="10" ry="7" transform="rotate(88 429 220)"/><ellipse cx="383" cy="267" rx="9" ry="6" transform="rotate(98 383 267)"/><ellipse cx="226" cy="304" rx="7" ry="4" transform="rotate(108 226 304)"/><ellipse cx="196" cy="302" rx="12" ry="7" transform="rotate(104 196 302)"/><ellipse cx="249" cy="304" rx="8" ry="4" transform="rotate(107 249 304)"/><ellipse cx="330" cy="274" rx="9" ry="4" transform="rotate(86 330 274)"/><ellipse cx="249" cy="245" rx="13" ry="8" transform="rotate(76 249 245)"/><ellipse cx="38" cy="257" rx="11" ry="6" transform="rotate(94 38 257)"/><ellipse cx="36" cy="238" rx="13" ry="6" transform="rotate(74 36 238)"/><ellipse cx="409" cy="245" rx="9" ry="5" transform="rotate(109 409 245)"/><ellipse cx="85" cy="302" rx="9" ry="4" transform="rotate(98 85 302)"/><ellipse cx="91" cy="290" rx="10" ry="4" transform="rotate(79 91 290)"/><ellipse cx="151" cy="308" rx="12" ry="8" transform="rotate(73 151 308)"/><ellipse cx="105" cy="240" rx="9" ry="4" transform="rotate(103 105 240)"/><ellipse cx="69" cy="230" rx="9" ry="5" transform="rotate(112 69 230)"/><ellipse cx="347" cy="250" rx="14" ry="7" transform="rotate(74 347 250)"/><ellipse cx="342" cy="263" rx="12" ry="6" transform="rotate(112 342 263)"/><ellipse cx="154" cy="264" rx="11" ry="6" transform="rotate(107 154 264)"/><ellipse cx="399" cy="208" rx="12" ry="7" transform="rotate(85 399 208)"/><ellipse cx="48" cy="240" rx="10" ry="5" transform="rotate(68 48 240)"/><ellipse cx="384" cy="268" rx="11" ry="6" transform="rotate(83 384 268)"/><ellipse cx="43" cy="253" rx="13" ry="8" transform="rotate(67 43 253)"/><ellipse cx="416" cy="262" rx="7" ry="3" transform="rotate(69 416 262)"/><ellipse cx="400" cy="238" rx="10" ry="7" transform="rotate(74 400 238)"/><ellipse cx="300" cy="262" rx="10" ry="6" transform="rotate(101 300 262)"/><ellipse cx="397" cy="251" rx="7" ry="4" transform="rotate(72 397 251)"/><ellipse cx="131" cy="311" rx="10" ry="5" transform="rotate(99 131 311)"/><ellipse cx="121" cy="309" rx="8" ry="4" transform="rotate(71 121 309)"/><ellipse cx="213" cy="262" rx="7" ry="3" transform="rotate(70 213 262)"/><ellipse cx="135" cy="270" rx="11" ry="5" transform="rotate(73 135 270)"/><ellipse cx="250" cy="274" rx="8" ry="6" transform="rotate(92 250 274)"/><ellipse cx="105" cy="261" rx="7" ry="5" transform="rotate(76 105 261)"/><ellipse cx="322" cy="236" rx="13" ry="8" transform="rotate(90 322 236)"/><ellipse cx="359" cy="272" rx="10" ry="5" transform="rotate(105 359 272)"/><ellipse cx="298" cy="255" rx="14" ry="8" transform="rotate(102 298 255)"/><ellipse cx="83" cy="238" rx="11" ry="5" transform="rotate(115 83 238)"/><ellipse cx="339" cy="223" rx="12" ry="8" transform="rotate(88 339 223)"/><ellipse cx="269" cy="288" rx="9" ry="4" transform="rotate(74 269 288)"/><ellipse cx="250" cy="285" rx="13" ry="6" transform="rotate(73 250 285)"/><ellipse cx="127" cy="260" rx="12" ry="5" transform="rotate(74 127 260)"/><ellipse cx="225" cy="265" rx="8" ry="5" transform="rotate(93 225 265)"/><ellipse cx="105" cy="309" rx="8" ry="4" transform="rotate(82 105 309)"/><ellipse cx="454" cy="205" rx="10" ry="6" transform="rotate(67 454 205)"/><ellipse cx="154" cy="294" rx="9" ry="4" transform="rotate(67 154 294)"/><ellipse cx="371" cy="227" rx="9" ry="6" transform="rotate(113 371 227)"/><ellipse cx="393" cy="257" rx="8" ry="6" transform="rotate(76 393 257)"/><ellipse cx="91" cy="294" rx="14" ry="9" transform="rotate(66 91 294)"/><ellipse cx="61" cy="290" rx="12" ry="5" transform="rotate(110 61 290)"/><ellipse cx="373" cy="269" rx="11" ry="5" transform="rotate(96 373 269)"/><ellipse cx="82" cy="238" rx="9" ry="5" transform="rotate(109 82 238)"/><ellipse cx="98" cy="295" rx="8" ry="4" transform="rotate(90 98 295)"/><ellipse cx="153" cy="310" rx="9" ry="5" transform="rotate(103 153 310)"/><ellipse cx="450" cy="217" rx="12" ry="7" transform="rotate(108 450 217)"/><ellipse cx="173" cy="295" rx="8" ry="5" transform="rotate(79 173 295)"/><ellipse cx="210" cy="277" rx="14" ry="6" transform="rotate(104 210 277)"/><ellipse cx="31" cy="207" rx="12" ry="5" transform="rotate(107 31 207)"/><ellipse cx="418" cy="214" rx="12" ry="7" transform="rotate(114 418 214)"/><ellipse cx="413" cy="222" rx="13" ry="7" transform="rotate(85 413 222)"/><ellipse cx="93" cy="288" rx="14" ry="7" transform="rotate(93 93 288)"/><ellipse cx="90" cy="283" rx="9" ry="6" transform="rotate(67 90 283)"/><ellipse cx="266" cy="254" rx="11" ry="7" transform="rotate(107 266 254)"/><ellipse cx="220" cy="256" rx="8" ry="4" transform="rotate(74 220 256)"/><ellipse cx="137" cy="269" rx="9" ry="4" transform="rotate(71 137 269)"/><ellipse cx="210" cy="253" rx="8" ry="6" transform="rotate(66 210 253)"/><ellipse cx="141" cy="259" rx="10" ry="6" transform="rotate(94 141 259)"/><ellipse cx="230" cy="248" rx="8" ry="3" transform="rotate(68 230 248)"/><ellipse cx="99" cy="280" rx="10" ry="5" transform="rotate(105 99 280)"/><ellipse cx="29" cy="218" rx="13" ry="7" transform="rotate(101 29 218)"/><ellipse cx="150" cy="264" rx="7" ry="4" transform="rotate(71 150 264)"/><ellipse cx="229" cy="267" rx="13" ry="9" transform="rotate(110 229 267)"/><ellipse cx="435" cy="208" rx="13" ry="8" transform="rotate(92 435 208)"/><ellipse cx="212" cy="313" rx="10" ry="7" transform="rotate(111 212 313)"/><ellipse cx="177" cy="268" rx="10" ry="7" transform="rotate(108 177 268)"/><ellipse cx="154" cy="289" rx="12" ry="7" transform="rotate(91 154 289)"/><ellipse cx="229" cy="294" rx="12" ry="8" transform="rotate(76 229 294)"/><ellipse cx="108" cy="267" rx="13" ry="7" transform="rotate(112 108 267)"/><ellipse cx="238" cy="309" rx="13" ry="6" transform="rotate(66 238 309)"/><ellipse cx="192" cy="289" rx="7" ry="5" transform="rotate(96 192 289)"/><ellipse cx="254" cy="268" rx="9" ry="4" transform="rotate(77 254 268)"/><ellipse cx="442" cy="223" rx="9" ry="5" transform="rotate(112 442 223)"/><ellipse cx="51" cy="270" rx="9" ry="4" transform="rotate(105 51 270)"/><ellipse cx="230" cy="272" rx="12" ry="7" transform="rotate(111 230 272)"/><ellipse cx="455" cy="196" rx="12" ry="5" transform="rotate(71 455 196)"/><ellipse cx="239" cy="270" rx="12" ry="7" transform="rotate(69 239 270)"/><ellipse cx="276" cy="288" rx="9" ry="5" transform="rotate(90 276 288)"/><ellipse cx="430" cy="243" rx="12" ry="5" transform="rotate(76 430 243)"/><ellipse cx="307" cy="233" rx="11" ry="7" transform="rotate(93 307 233)"/><ellipse cx="316" cy="272" rx="9" ry="6" transform="rotate(84 316 272)"/><ellipse cx="140" cy="270" rx="11" ry="6" transform="rotate(105 140 270)"/><ellipse cx="83" cy="296" rx="14" ry="9" transform="rotate(67 83 296)"/><ellipse cx="258" cy="300" rx="11" ry="7" transform="rotate(73 258 300)"/><ellipse cx="225" cy="283" rx="7" ry="4" transform="rotate(111 225 283)"/><ellipse cx="283" cy="257" rx="10" ry="6" transform="rotate(82 283 257)"/><ellipse cx="376" cy="269" rx="10" ry="6" transform="rotate(100 376 269)"/><ellipse cx="335" cy="218" rx="7" ry="3" transform="rotate(69 335 218)"/><ellipse cx="226" cy="305" rx="10" ry="7" transform="rotate(83 226 305)"/><ellipse cx="68" cy="275" rx="8" ry="3" transform="rotate(80 68 275)"/><ellipse cx="365" cy="245" rx="8" ry="5" transform="rotate(82 365 245)"/><ellipse cx="88" cy="295" rx="8" ry="5" transform="rotate(87 88 295)"/><ellipse cx="248" cy="251" rx="9" ry="6" transform="rotate(71 248 251)"/><ellipse cx="20" cy="210" rx="11" ry="5" transform="rotate(84 20 210)"/><ellipse cx="42" cy="226" rx="8" ry="5" transform="rotate(76 42 226)"/><ellipse cx="427" cy="210" rx="9" ry="6" transform="rotate(68 427 210)"/><ellipse cx="234" cy="259" rx="9" ry="4" transform="rotate(90 234 259)"/><ellipse cx="127" cy="297" rx="10" ry="6" transform="rotate(94 127 297)"/><ellipse cx="267" cy="294" rx="11" ry="5" transform="rotate(107 267 294)"/><ellipse cx="351" cy="262" rx="14" ry="7" transform="rotate(89 351 262)"/><ellipse cx="363" cy="252" rx="10" ry="6" transform="rotate(110 363 252)"/><ellipse cx="219" cy="296" rx="11" ry="6" transform="rotate(76 219 296)"/><ellipse cx="85" cy="242" rx="14" ry="10" transform="rotate(106 85 242)"/><ellipse cx="397" cy="204" rx="13" ry="8" transform="rotate(75 397 204)"/><ellipse cx="379" cy="206" rx="9" ry="6" transform="rotate(107 379 206)"/><ellipse cx="298" cy="236" rx="9" ry="4" transform="rotate(96 298 236)"/><ellipse cx="351" cy="279" rx="11" ry="6" transform="rotate(86 351 279)"/><ellipse cx="443" cy="192" rx="7" ry="3" transform="rotate(99 443 192)"/><ellipse cx="235" cy="282" rx="9" ry="5" transform="rotate(70 235 282)"/><ellipse cx="103" cy="301" rx="9" ry="4" transform="rotate(97 103 301)"/><ellipse cx="276" cy="267" rx="13" ry="5" transform="rotate(96 276 267)"/><ellipse cx="49" cy="259" rx="12" ry="9" transform="rotate(105 49 259)"/><ellipse cx="369" cy="227" rx="11" ry="6" transform="rotate(90 369 227)"/><ellipse cx="283" cy="252" rx="10" ry="6" transform="rotate(97 283 252)"/><ellipse cx="240" cy="261" rx="13" ry="8" transform="rotate(75 240 261)"/><ellipse cx="285" cy="242" rx="10" ry="6" transform="rotate(100 285 242)"/><ellipse cx="423" cy="239" rx="10" ry="6" transform="rotate(114 423 239)"/><ellipse cx="237" cy="283" rx="8" ry="4" transform="rotate(100 237 283)"/><ellipse cx="168" cy="268" rx="10" ry="4" transform="rotate(78 168 268)"/><ellipse cx="193" cy="268" rx="9" ry="4" transform="rotate(111 193 268)"/><ellipse cx="45" cy="240" rx="13" ry="6" transform="rotate(111 45 240)"/><ellipse cx="18" cy="202" rx="10" ry="6" transform="rotate(105 18 202)"/><ellipse cx="29" cy="256" rx="9" ry="4" transform="rotate(75 29 256)"/><ellipse cx="136" cy="298" rx="8" ry="4" transform="rotate(65 136 298)"/><ellipse cx="440" cy="221" rx="10" ry="4" transform="rotate(106 440 221)"/><ellipse cx="179" cy="331" rx="13" ry="7" transform="rotate(94 179 331)"/><ellipse cx="356" cy="219" rx="13" ry="6" transform="rotate(89 356 219)"/><ellipse cx="140" cy="273" rx="9" ry="5" transform="rotate(78 140 273)"/><ellipse cx="372" cy="253" rx="11" ry="6" transform="rotate(78 372 253)"/><ellipse cx="95" cy="246" rx="12" ry="8" transform="rotate(88 95 246)"/><ellipse cx="378" cy="239" rx="11" ry="7" transform="rotate(92 378 239)"/><ellipse cx="359" cy="223" rx="12" ry="6" transform="rotate(91 359 223)"/><ellipse cx="74" cy="245" rx="13" ry="5" transform="rotate(74 74 245)"/><ellipse cx="258" cy="288" rx="12" ry="7" transform="rotate(101 258 288)"/><ellipse cx="145" cy="330" rx="12" ry="8" transform="rotate(107 145 330)"/><ellipse cx="277" cy="256" rx="11" ry="5" transform="rotate(108 277 256)"/><ellipse cx="94" cy="273" rx="7" ry="5" transform="rotate(104 94 273)"/><ellipse cx="105" cy="252" rx="8" ry="5" transform="rotate(100 105 252)"/><ellipse cx="413" cy="207" rx="13" ry="6" transform="rotate(66 413 207)"/><ellipse cx="384" cy="232" rx="8" ry="3" transform="rotate(80 384 232)"/><ellipse cx="221" cy="261" rx="11" ry="5" transform="rotate(65 221 261)"/><ellipse cx="417" cy="249" rx="12" ry="8" transform="rotate(95 417 249)"/><ellipse cx="350" cy="214" rx="8" ry="5" transform="rotate(114 350 214)"/><ellipse cx="456" cy="216" rx="11" ry="6" transform="rotate(83 456 216)"/><ellipse cx="27" cy="237" rx="14" ry="7" transform="rotate(82 27 237)"/><ellipse cx="351" cy="216" rx="12" ry="8" transform="rotate(108 351 216)"/><ellipse cx="320" cy="275" rx="10" ry="7" transform="rotate(74 320 275)"/><ellipse cx="181" cy="284" rx="13" ry="9" transform="rotate(109 181 284)"/><ellipse cx="250" cy="255" rx="8" ry="4" transform="rotate(112 250 255)"/><ellipse cx="181" cy="326" rx="13" ry="7" transform="rotate(111 181 326)"/><ellipse cx="268" cy="277" rx="11" ry="7" transform="rotate(91 268 277)"/><ellipse cx="262" cy="253" rx="9" ry="6" transform="rotate(97 262 253)"/><ellipse cx="111" cy="251" rx="8" ry="4" transform="rotate(101 111 251)"/><ellipse cx="364" cy="241" rx="10" ry="4" transform="rotate(74 364 241)"/><ellipse cx="209" cy="277" rx="8" ry="3" transform="rotate(108 209 277)"/><ellipse cx="299" cy="231" rx="13" ry="6" transform="rotate(87 299 231)"/><ellipse cx="245" cy="272" rx="11" ry="6" transform="rotate(104 245 272)"/><ellipse cx="124" cy="251" rx="12" ry="8" transform="rotate(78 124 251)"/><ellipse cx="131" cy="264" rx="14" ry="6" transform="rotate(107 131 264)"/><ellipse cx="418" cy="260" rx="9" ry="4" transform="rotate(92 418 260)"/><ellipse cx="397" cy="242" rx="9" ry="6" transform="rotate(73 397 242)"/><ellipse cx="284" cy="234" rx="12" ry="7" transform="rotate(105 284 234)"/><ellipse cx="132" cy="290" rx="11" ry="8" transform="rotate(87 132 290)"/><ellipse cx="168" cy="308" rx="12" ry="5" transform="rotate(113 168 308)"/><ellipse cx="214" cy="316" rx="10" ry="6" transform="rotate(113 214 316)"/><ellipse cx="72" cy="271" rx="8" ry="4" transform="rotate(113 72 271)"/><ellipse cx="317" cy="262" rx="13" ry="7" transform="rotate(103 317 262)"/><ellipse cx="432" cy="210" rx="10" ry="5" transform="rotate(89 432 210)"/><ellipse cx="281" cy="294" rx="8" ry="5" transform="rotate(106 281 294)"/><ellipse cx="124" cy="280" rx="8" ry="4" transform="rotate(80 124 280)"/><ellipse cx="394" cy="219" rx="9" ry="4" transform="rotate(84 394 219)"/><ellipse cx="324" cy="270" rx="9" ry="4" transform="rotate(79 324 270)"/><ellipse cx="317" cy="262" rx="10" ry="6" transform="rotate(66 317 262)"/><ellipse cx="25" cy="225" rx="13" ry="6" transform="rotate(72 25 225)"/><ellipse cx="63" cy="232" rx="14" ry="9" transform="rotate(74 63 232)"/><ellipse cx="191" cy="270" rx="8" ry="3" transform="rotate(75 191 270)"/><ellipse cx="226" cy="250" rx="11" ry="7" transform="rotate(86 226 250)"/><ellipse cx="136" cy="275" rx="14" ry="7" transform="rotate(115 136 275)"/><ellipse cx="239" cy="290" rx="8" ry="4" transform="rotate(98 239 290)"/><ellipse cx="191" cy="273" rx="12" ry="6" transform="rotate(100 191 273)"/><ellipse cx="277" cy="253" rx="10" ry="6" transform="rotate(103 277 253)"/><ellipse cx="66" cy="265" rx="8" ry="6" transform="rotate(75 66 265)"/><ellipse cx="214" cy="307" rx="9" ry="4" transform="rotate(77 214 307)"/><ellipse cx="333" cy="236" rx="14" ry="6" transform="rotate(80 333 236)"/><ellipse cx="241" cy="304" rx="10" ry="7" transform="rotate(96 241 304)"/><ellipse cx="226" cy="267" rx="13" ry="5" transform="rotate(66 226 267)"/><ellipse cx="426" cy="238" rx="12" ry="8" transform="rotate(79 426 238)"/><ellipse cx="147" cy="262" rx="7" ry="4" transform="rotate(87 147 262)"/><ellipse cx="261" cy="280" rx="9" ry="6" transform="rotate(86 261 280)"/><ellipse cx="104" cy="296" rx="14" ry="6" transform="rotate(103 104 296)"/><ellipse cx="367" cy="236" rx="13" ry="6" transform="rotate(91 367 236)"/><ellipse cx="412" cy="245" rx="12" ry="6" transform="rotate(100 412 245)"/><ellipse cx="358" cy="213" rx="12" ry="7" transform="rotate(102 358 213)"/><ellipse cx="90" cy="270" rx="7" ry="5" transform="rotate(97 90 270)"/><ellipse cx="121" cy="279" rx="9" ry="5" transform="rotate(104 121 279)"/><ellipse cx="312" cy="268" rx="11" ry="5" transform="rotate(67 312 268)"/><ellipse cx="390" cy="209" rx="11" ry="5" transform="rotate(81 390 209)"/><ellipse cx="76" cy="236" rx="12" ry="6" transform="rotate(74 76 236)"/><ellipse cx="392" cy="249" rx="10" ry="5" transform="rotate(98 392 249)"/><ellipse cx="231" cy="296" rx="10" ry="7" transform="rotate(95 231 296)"/><ellipse cx="30" cy="245" rx="10" ry="6" transform="rotate(70 30 245)"/><ellipse cx="281" cy="270" rx="10" ry="6" transform="rotate(82 281 270)"/><ellipse cx="89" cy="276" rx="13" ry="9" transform="rotate(110 89 276)"/><ellipse cx="418" cy="251" rx="8" ry="5" transform="rotate(86 418 251)"/><ellipse cx="207" cy="318" rx="13" ry="9" transform="rotate(66 207 318)"/><ellipse cx="119" cy="267" rx="8" ry="4" transform="rotate(96 119 267)"/><ellipse cx="293" cy="281" rx="13" ry="5" transform="rotate(81 293 281)"/><ellipse cx="225" cy="293" rx="11" ry="6" transform="rotate(92 225 293)"/><ellipse cx="81" cy="263" rx="8" ry="5" transform="rotate(80 81 263)"/><ellipse cx="374" cy="223" rx="10" ry="5" transform="rotate(97 374 223)"/><ellipse cx="280" cy="300" rx="9" ry="4" transform="rotate(96 280 300)"/><ellipse cx="295" cy="270" rx="13" ry="9" transform="rotate(103 295 270)"/><ellipse cx="268" cy="264" rx="8" ry="4" transform="rotate(83 268 264)"/><ellipse cx="264" cy="251" rx="13" ry="8" transform="rotate(111 264 251)"/><ellipse cx="428" cy="196" rx="12" ry="8" transform="rotate(69 428 196)"/><ellipse cx="413" cy="201" rx="7" ry="3" transform="rotate(108 413 201)"/><ellipse cx="157" cy="273" rx="10" ry="5" transform="rotate(97 157 273)"/><ellipse cx="202" cy="298" rx="13" ry="7" transform="rotate(79 202 298)"/><ellipse cx="20" cy="216" rx="11" ry="7" transform="rotate(94 20 216)"/><ellipse cx="283" cy="242" rx="12" ry="8" transform="rotate(89 283 242)"/><ellipse cx="304" cy="267" rx="9" ry="6" transform="rotate(69 304 267)"/><ellipse cx="272" cy="243" rx="8" ry="4" transform="rotate(102 272 243)"/><ellipse cx="322" cy="282" rx="14" ry="7" transform="rotate(79 322 282)"/><ellipse cx="379" cy="209" rx="10" ry="4" transform="rotate(106 379 209)"/><ellipse cx="333" cy="271" rx="11" ry="7" transform="rotate(88 333 271)"/><ellipse cx="365" cy="261" rx="11" ry="5" transform="rotate(77 365 261)"/><ellipse cx="383" cy="221" rx="8" ry="4" transform="rotate(79 383 221)"/><ellipse cx="357" cy="219" rx="9" ry="5" transform="rotate(108 357 219)"/><ellipse cx="316" cy="288" rx="8" ry="4" transform="rotate(108 316 288)"/><ellipse cx="155" cy="302" rx="13" ry="8" transform="rotate(96 155 302)"/><ellipse cx="233" cy="249" rx="12" ry="6" transform="rotate(77 233 249)"/><ellipse cx="100" cy="304" rx="11" ry="7" transform="rotate(75 100 304)"/><ellipse cx="88" cy="236" rx="9" ry="6" transform="rotate(70 88 236)"/><ellipse cx="403" cy="230" rx="10" ry="4" transform="rotate(96 403 230)"/><ellipse cx="434" cy="235" rx="8" ry="4" transform="rotate(111 434 235)"/><ellipse cx="220" cy="287" rx="13" ry="7" transform="rotate(104 220 287)"/><ellipse cx="399" cy="202" rx="8" ry="5" transform="rotate(82 399 202)"/><ellipse cx="180" cy="278" rx="7" ry="3" transform="rotate(91 180 278)"/><ellipse cx="176" cy="294" rx="8" ry="3" transform="rotate(111 176 294)"/><ellipse cx="77" cy="252" rx="12" ry="6" transform="rotate(90 77 252)"/><ellipse cx="395" cy="260" rx="8" ry="4" transform="rotate(82 395 260)"/><ellipse cx="390" cy="228" rx="9" ry="6" transform="rotate(68 390 228)"/><ellipse cx="55" cy="287" rx="12" ry="7" transform="rotate(72 55 287)"/><ellipse cx="351" cy="254" rx="10" ry="6" transform="rotate(69 351 254)"/><ellipse cx="88" cy="254" rx="9" ry="4" transform="rotate(94 88 254)"/><ellipse cx="339" cy="278" rx="7" ry="4" transform="rotate(103 339 278)"/><ellipse cx="163" cy="307" rx="13" ry="9" transform="rotate(103 163 307)"/><ellipse cx="204" cy="258" rx="8" ry="4" transform="rotate(78 204 258)"/><ellipse cx="206" cy="285" rx="9" ry="4" transform="rotate(91 206 285)"/><ellipse cx="412" cy="261" rx="13" ry="7" transform="rotate(78 412 261)"/><ellipse cx="81" cy="250" rx="9" ry="4" transform="rotate(81 81 250)"/><ellipse cx="269" cy="274" rx="13" ry="8" transform="rotate(88 269 274)"/><ellipse cx="236" cy="310" rx="11" ry="5" transform="rotate(84 236 310)"/><ellipse cx="61" cy="290" rx="12" ry="7" transform="rotate(68 61 290)"/><ellipse cx="101" cy="298" rx="7" ry="3" transform="rotate(111 101 298)"/><ellipse cx="108" cy="287" rx="14" ry="9" transform="rotate(88 108 287)"/><ellipse cx="248" cy="306" rx="10" ry="5" transform="rotate(78 248 306)"/><ellipse cx="458" cy="239" rx="9" ry="4" transform="rotate(79 458 239)"/><ellipse cx="122" cy="263" rx="10" ry="5" transform="rotate(107 122 263)"/><ellipse cx="170" cy="280" rx="11" ry="7" transform="rotate(95 170 280)"/><ellipse cx="437" cy="238" rx="8" ry="4" transform="rotate(106 437 238)"/><ellipse cx="61" cy="226" rx="13" ry="5" transform="rotate(100 61 226)"/><ellipse cx="444" cy="232" rx="9" ry="4" transform="rotate(89 444 232)"/><ellipse cx="331" cy="264" rx="13" ry="9" transform="rotate(109 331 264)"/><ellipse cx="302" cy="246" rx="10" ry="5" transform="rotate(72 302 246)"/><ellipse cx="55" cy="284" rx="13" ry="9" transform="rotate(78 55 284)"/><ellipse cx="98" cy="295" rx="8" ry="6" transform="rotate(66 98 295)"/><ellipse cx="435" cy="246" rx="10" ry="6" transform="rotate(77 435 246)"/><ellipse cx="63" cy="228" rx="8" ry="5" transform="rotate(78 63 228)"/><ellipse cx="422" cy="212" rx="10" ry="5" transform="rotate(81 422 212)"/><ellipse cx="335" cy="260" rx="13" ry="6" transform="rotate(107 335 260)"/><ellipse cx="393" cy="245" rx="14" ry="9" transform="rotate(76 393 245)"/><ellipse cx="148" cy="316" rx="10" ry="7" transform="rotate(109 148 316)"/><ellipse cx="293" cy="273" rx="9" ry="6" transform="rotate(86 293 273)"/><ellipse cx="345" cy="267" rx="8" ry="5" transform="rotate(79 345 267)"/><ellipse cx="202" cy="313" rx="10" ry="6" transform="rotate(101 202 313)"/><ellipse cx="411" cy="205" rx="8" ry="4" transform="rotate(73 411 205)"/><ellipse cx="374" cy="235" rx="9" ry="4" transform="rotate(79 374 235)"/><ellipse cx="241" cy="287" rx="7" ry="5" transform="rotate(103 241 287)"/><ellipse cx="278" cy="288" rx="10" ry="5" transform="rotate(88 278 288)"/><ellipse cx="132" cy="260" rx="10" ry="6" transform="rotate(85 132 260)"/><ellipse cx="454" cy="213" rx="13" ry="5" transform="rotate(106 454 213)"/><ellipse cx="55" cy="226" rx="10" ry="7" transform="rotate(72 55 226)"/><ellipse cx="243" cy="311" rx="10" ry="6" transform="rotate(115 243 311)"/><ellipse cx="378" cy="219" rx="9" ry="5" transform="rotate(103 378 219)"/><ellipse cx="112" cy="246" rx="14" ry="7" transform="rotate(106 112 246)"/><ellipse cx="144" cy="297" rx="13" ry="9" transform="rotate(94 144 297)"/><ellipse cx="400" cy="213" rx="8" ry="5" transform="rotate(91 400 213)"/><ellipse cx="407" cy="243" rx="10" ry="6" transform="rotate(70 407 243)"/><ellipse cx="173" cy="319" rx="12" ry="7" transform="rotate(94 173 319)"/><ellipse cx="119" cy="275" rx="12" ry="6" transform="rotate(88 119 275)"/><ellipse cx="287" cy="296" rx="7" ry="4" transform="rotate(67 287 296)"/><ellipse cx="336" cy="277" rx="12" ry="5" transform="rotate(114 336 277)"/><ellipse cx="435" cy="210" rx="11" ry="6" transform="rotate(102 435 210)"/><ellipse cx="212" cy="294" rx="13" ry="6" transform="rotate(84 212 294)"/><ellipse cx="274" cy="294" rx="11" ry="4" transform="rotate(77 274 294)"/><ellipse cx="173" cy="323" rx="11" ry="5" transform="rotate(93 173 323)"/><ellipse cx="37" cy="267" rx="7" ry="4" transform="rotate(73 37 267)"/><ellipse cx="41" cy="241" rx="9" ry="4" transform="rotate(73 41 241)"/><ellipse cx="346" cy="234" rx="14" ry="7" transform="rotate(100 346 234)"/><ellipse cx="176" cy="307" rx="7" ry="5" transform="rotate(77 176 307)"/><ellipse cx="349" cy="232" rx="7" ry="4" transform="rotate(71 349 232)"/><ellipse cx="369" cy="213" rx="7" ry="4" transform="rotate(94 369 213)"/><ellipse cx="104" cy="301" rx="8" ry="4" transform="rotate(103 104 301)"/><ellipse cx="281" cy="265" rx="11" ry="6" transform="rotate(92 281 265)"/><ellipse cx="152" cy="263" rx="13" ry="7" transform="rotate(114 152 263)"/><ellipse cx="415" cy="233" rx="8" ry="5" transform="rotate(102 415 233)"/><ellipse cx="196" cy="316" rx="12" ry="7" transform="rotate(65 196 316)"/><ellipse cx="129" cy="321" rx="13" ry="8" transform="rotate(70 129 321)"/><ellipse cx="98" cy="270" rx="9" ry="4" transform="rotate(113 98 270)"/><ellipse cx="428" cy="204" rx="8" ry="5" transform="rotate(93 428 204)"/><ellipse cx="54" cy="274" rx="14" ry="10" transform="rotate(110 54 274)"/><ellipse cx="192" cy="297" rx="13" ry="8" transform="rotate(95 192 297)"/><ellipse cx="411" cy="208" rx="9" ry="5" transform="rotate(65 411 208)"/><ellipse cx="139" cy="324" rx="14" ry="8" transform="rotate(91 139 324)"/><ellipse cx="60" cy="268" rx="14" ry="7" transform="rotate(98 60 268)"/><ellipse cx="384" cy="254" rx="10" ry="6" transform="rotate(74 384 254)"/><ellipse cx="38" cy="218" rx="13" ry="8" transform="rotate(85 38 218)"/><ellipse cx="61" cy="264" rx="9" ry="5" transform="rotate(108 61 264)"/><ellipse cx="328" cy="234" rx="13" ry="6" transform="rotate(114 328 234)"/><ellipse cx="439" cy="194" rx="11" ry="7" transform="rotate(98 439 194)"/><ellipse cx="420" cy="219" rx="13" ry="9" transform="rotate(84 420 219)"/><ellipse cx="361" cy="213" rx="11" ry="5" transform="rotate(96 361 213)"/><ellipse cx="74" cy="249" rx="7" ry="5" transform="rotate(96 74 249)"/><ellipse cx="369" cy="260" rx="11" ry="5" transform="rotate(83 369 260)"/><ellipse cx="229" cy="249" rx="9" ry="5" transform="rotate(68 229 249)"/><ellipse cx="143" cy="261" rx="9" ry="6" transform="rotate(82 143 261)"/><ellipse cx="391" cy="230" rx="8" ry="5" transform="rotate(80 391 230)"/><ellipse cx="45" cy="248" rx="12" ry="6" transform="rotate(105 45 248)"/><ellipse cx="126" cy="314" rx="13" ry="7" transform="rotate(100 126 314)"/><ellipse cx="40" cy="210" rx="12" ry="7" transform="rotate(87 40 210)"/><ellipse cx="456" cy="189" rx="13" ry="6" transform="rotate(77 456 189)"/><ellipse cx="361" cy="229" rx="13" ry="7" transform="rotate(78 361 229)"/><ellipse cx="34" cy="259" rx="10" ry="6" transform="rotate(109 34 259)"/><ellipse cx="294" cy="267" rx="14" ry="9" transform="rotate(88 294 267)"/><ellipse cx="336" cy="282" rx="8" ry="5" transform="rotate(95 336 282)"/><ellipse cx="341" cy="255" rx="7" ry="3" transform="rotate(95 341 255)"/><ellipse cx="80" cy="232" rx="10" ry="4" transform="rotate(79 80 232)"/><ellipse cx="188" cy="314" rx="7" ry="4" transform="rotate(101 188 314)"/><ellipse cx="85" cy="299" rx="7" ry="4" transform="rotate(84 85 299)"/><ellipse cx="165" cy="311" rx="13" ry="8" transform="rotate(99 165 311)"/><ellipse cx="71" cy="248" rx="11" ry="6" transform="rotate(68 71 248)"/><ellipse cx="44" cy="268" rx="10" ry="5" transform="rotate(75 44 268)"/><ellipse cx="319" cy="227" rx="13" ry="6" transform="rotate(76 319 227)"/><ellipse cx="95" cy="300" rx="13" ry="9" transform="rotate(91 95 300)"/><ellipse cx="302" cy="237" rx="11" ry="5" transform="rotate(109 302 237)"/><ellipse cx="204" cy="258" rx="8" ry="4" transform="rotate(75 204 258)"/><ellipse cx="101" cy="262" rx="7" ry="4" transform="rotate(95 101 262)"/><ellipse cx="361" cy="235" rx="11" ry="6" transform="rotate(99 361 235)"/><ellipse cx="244" cy="263" rx="11" ry="7" transform="rotate(82 244 263)"/><ellipse cx="252" cy="261" rx="12" ry="5" transform="rotate(100 252 261)"/><ellipse cx="246" cy="272" rx="13" ry="6" transform="rotate(91 246 272)"/><ellipse cx="447" cy="218" rx="11" ry="5" transform="rotate(103 447 218)"/><ellipse cx="72" cy="236" rx="10" ry="6" transform="rotate(112 72 236)"/><ellipse cx="44" cy="252" rx="9" ry="5" transform="rotate(76 44 252)"/><ellipse cx="29" cy="208" rx="11" ry="6" transform="rotate(107 29 208)"/><ellipse cx="106" cy="287" rx="13" ry="5" transform="rotate(90 106 287)"/><ellipse cx="104" cy="242" rx="9" ry="6" transform="rotate(78 104 242)"/><ellipse cx="144" cy="285" rx="8" ry="4" transform="rotate(82 144 285)"/><ellipse cx="26" cy="254" rx="14" ry="9" transform="rotate(100 26 254)"/><ellipse cx="106" cy="251" rx="12" ry="5" transform="rotate(91 106 251)"/><ellipse cx="107" cy="282" rx="13" ry="8" transform="rotate(82 107 282)"/><ellipse cx="323" cy="259" rx="11" ry="5" transform="rotate(70 323 259)"/><ellipse cx="432" cy="250" rx="11" ry="6" transform="rotate(109 432 250)"/><ellipse cx="144" cy="260" rx="13" ry="6" transform="rotate(87 144 260)"/><ellipse cx="239" cy="257" rx="8" ry="4" transform="rotate(83 239 257)"/><ellipse cx="94" cy="238" rx="9" ry="6" transform="rotate(69 94 238)"/><ellipse cx="40" cy="232" rx="14" ry="7" transform="rotate(102 40 232)"/><ellipse cx="288" cy="257" rx="13" ry="9" transform="rotate(106 288 257)"/><ellipse cx="330" cy="241" rx="11" ry="6" transform="rotate(102 330 241)"/><ellipse cx="76" cy="270" rx="11" ry="7" transform="rotate(81 76 270)"/><ellipse cx="191" cy="294" rx="11" ry="6" transform="rotate(95 191 294)"/><ellipse cx="209" cy="267" rx="12" ry="6" transform="rotate(82 209 267)"/><ellipse cx="375" cy="266" rx="14" ry="7" transform="rotate(67 375 266)"/><ellipse cx="189" cy="295" rx="9" ry="5" transform="rotate(76 189 295)"/><ellipse cx="270" cy="266" rx="10" ry="6" transform="rotate(106 270 266)"/><ellipse cx="71" cy="237" rx="11" ry="5" transform="rotate(70 71 237)"/><ellipse cx="384" cy="231" rx="9" ry="7" transform="rotate(106 384 231)"/><ellipse cx="177" cy="289" rx="8" ry="5" transform="rotate(91 177 289)"/><ellipse cx="198" cy="287" rx="11" ry="4" transform="rotate(87 198 287)"/><ellipse cx="291" cy="262" rx="11" ry="5" transform="rotate(109 291 262)"/><ellipse cx="220" cy="299" rx="9" ry="6" transform="rotate(77 220 299)"/><ellipse cx="348" cy="228" rx="14" ry="8" transform="rotate(102 348 228)"/><ellipse cx="202" cy="302" rx="14" ry="8" transform="rotate(98 202 302)"/><ellipse cx="204" cy="255" rx="9" ry="5" transform="rotate(78 204 255)"/><ellipse cx="460" cy="186" rx="12" ry="6" transform="rotate(96 460 186)"/><ellipse cx="34" cy="235" rx="9" ry="4" transform="rotate(68 34 235)"/><ellipse cx="407" cy="206" rx="9" ry="4" transform="rotate(107 407 206)"/><ellipse cx="214" cy="275" rx="11" ry="7" transform="rotate(110 214 275)"/><ellipse cx="377" cy="267" rx="12" ry="6" transform="rotate(108 377 267)"/><ellipse cx="273" cy="238" rx="9" ry="4" transform="rotate(112 273 238)"/><ellipse cx="233" cy="297" rx="11" ry="5" transform="rotate(110 233 297)"/><ellipse cx="431" cy="201" rx="7" ry="5" transform="rotate(73 431 201)"/><ellipse cx="408" cy="259" rx="11" ry="5" transform="rotate(93 408 259)"/><ellipse cx="315" cy="256" rx="13" ry="5" transform="rotate(76 315 256)"/><ellipse cx="225" cy="288" rx="8" ry="6" transform="rotate(111 225 288)"/><ellipse cx="185" cy="293" rx="12" ry="8" transform="rotate(96 185 293)"/><ellipse cx="128" cy="290" rx="12" ry="7" transform="rotate(92 128 290)"/><ellipse cx="304" cy="293" rx="10" ry="5" transform="rotate(91 304 293)"/><ellipse cx="220" cy="262" rx="12" ry="6" transform="rotate(113 220 262)"/><ellipse cx="341" cy="282" rx="11" ry="5" transform="rotate(82 341 282)"/><ellipse cx="141" cy="259" rx="11" ry="8" transform="rotate(99 141 259)"/><ellipse cx="427" cy="195" rx="13" ry="9" transform="rotate(107 427 195)"/><ellipse cx="437" cy="229" rx="11" ry="7" transform="rotate(107 437 229)"/><ellipse cx="312" cy="242" rx="14" ry="7" transform="rotate(70 312 242)"/><ellipse cx="429" cy="240" rx="13" ry="8" transform="rotate(104 429 240)"/><ellipse cx="326" cy="232" rx="11" ry="5" transform="rotate(105 326 232)"/><ellipse cx="371" cy="271" rx="12" ry="7" transform="rotate(77 371 271)"/><ellipse cx="52" cy="229" rx="8" ry="3" transform="rotate(94 52 229)"/><ellipse cx="181" cy="293" rx="9" ry="5" transform="rotate(79 181 293)"/><ellipse cx="101" cy="240" rx="9" ry="5" transform="rotate(104 101 240)"/><ellipse cx="184" cy="329" rx="12" ry="8" transform="rotate(87 184 329)"/></g></g>
 <!-- electrolyte slab -->
 <path d="M12,142 L163,202 L163,266 L16,199 Z" fill="#ab9686"/>
 <path d="M163,202 L465,128 L465,183 L163,266 Z" fill="#ddbfab"/>
 <path d="M12,142 L163,202 L465,128 L465,112 L300,96 L12,126 Z" fill="#e3c4b2"/>
 <!-- purple fuel electrode -->
 <path d="M10,92 L15,75 L75,60 L190,48 L270,37 L300,35 L380,48 L440,58 L467,64 L469,100 L466,112 L468,124 L452,128 L440,135 L420,138 L400,143 L380,146 L350,153 L325,156 L300,160 L275,170 L250,178 L225,182 L200,187 L180,190 L168,199 L150,194 L120,182 L95,171 L70,157 L40,148 L12,141 Z" fill="#8e7eb2"/>
 <g clip-path="url(#cpP)"><g fill="#4c3e6c"><ellipse cx="282" cy="104" rx="5" ry="2" transform="rotate(35 282 104)"/><ellipse cx="213" cy="70" rx="5" ry="2" transform="rotate(15 213 70)"/><ellipse cx="336" cy="103" rx="5" ry="4" transform="rotate(65 336 103)"/><ellipse cx="280" cy="143" rx="5" ry="5" transform="rotate(65 280 143)"/><ellipse cx="359" cy="95" rx="5" ry="4" transform="rotate(57 359 95)"/><ellipse cx="48" cy="112" rx="6" ry="4" transform="rotate(81 48 112)"/><ellipse cx="305" cy="63" rx="4" ry="2" transform="rotate(147 305 63)"/><ellipse cx="135" cy="129" rx="6" ry="4" transform="rotate(67 135 129)"/><ellipse cx="141" cy="84" rx="6" ry="4" transform="rotate(47 141 84)"/><ellipse cx="118" cy="124" rx="7" ry="5" transform="rotate(170 118 124)"/><ellipse cx="34" cy="103" rx="3" ry="2" transform="rotate(124 34 103)"/><ellipse cx="446" cy="123" rx="7" ry="5" transform="rotate(62 446 123)"/><ellipse cx="458" cy="96" rx="4" ry="2" transform="rotate(84 458 96)"/><ellipse cx="447" cy="69" rx="3" ry="2" transform="rotate(31 447 69)"/><ellipse cx="259" cy="169" rx="4" ry="2" transform="rotate(162 259 169)"/><ellipse cx="213" cy="90" rx="7" ry="5" transform="rotate(161 213 90)"/><ellipse cx="326" cy="102" rx="6" ry="5" transform="rotate(115 326 102)"/><ellipse cx="118" cy="82" rx="5" ry="4" transform="rotate(100 118 82)"/><ellipse cx="262" cy="171" rx="3" ry="2" transform="rotate(60 262 171)"/><ellipse cx="266" cy="173" rx="4" ry="3" transform="rotate(14 266 173)"/><ellipse cx="268" cy="123" rx="4" ry="3" transform="rotate(85 268 123)"/><ellipse cx="216" cy="153" rx="3" ry="2" transform="rotate(141 216 153)"/><ellipse cx="102" cy="147" rx="4" ry="2" transform="rotate(76 102 147)"/><ellipse cx="46" cy="150" rx="5" ry="4" transform="rotate(97 46 150)"/><ellipse cx="265" cy="121" rx="4" ry="4" transform="rotate(16 265 121)"/><ellipse cx="238" cy="163" rx="6" ry="4" transform="rotate(52 238 163)"/><ellipse cx="156" cy="91" rx="4" ry="4" transform="rotate(61 156 91)"/><ellipse cx="187" cy="103" rx="6" ry="4" transform="rotate(100 187 103)"/><ellipse cx="126" cy="79" rx="3" ry="2" transform="rotate(47 126 79)"/><ellipse cx="402" cy="117" rx="3" ry="2" transform="rotate(22 402 117)"/><ellipse cx="270" cy="107" rx="6" ry="3" transform="rotate(153 270 107)"/><ellipse cx="301" cy="40" rx="6" ry="3" transform="rotate(65 301 40)"/><ellipse cx="191" cy="146" rx="4" ry="2" transform="rotate(165 191 146)"/><ellipse cx="310" cy="61" rx="7" ry="6" transform="rotate(33 310 61)"/><ellipse cx="17" cy="135" rx="4" ry="3" transform="rotate(84 17 135)"/><ellipse cx="336" cy="128" rx="6" ry="5" transform="rotate(109 336 128)"/><ellipse cx="281" cy="88" rx="4" ry="2" transform="rotate(154 281 88)"/><ellipse cx="103" cy="104" rx="4" ry="3" transform="rotate(96 103 104)"/><ellipse cx="405" cy="106" rx="4" ry="3" transform="rotate(134 405 106)"/><ellipse cx="436" cy="85" rx="7" ry="6" transform="rotate(177 436 85)"/><ellipse cx="68" cy="96" rx="6" ry="5" transform="rotate(7 68 96)"/><ellipse cx="191" cy="154" rx="6" ry="4" transform="rotate(38 191 154)"/><ellipse cx="154" cy="104" rx="6" ry="4" transform="rotate(75 154 104)"/><ellipse cx="122" cy="86" rx="6" ry="4" transform="rotate(31 122 86)"/><ellipse cx="388" cy="129" rx="7" ry="5" transform="rotate(112 388 129)"/><ellipse cx="206" cy="135" rx="7" ry="6" transform="rotate(119 206 135)"/><ellipse cx="396" cy="98" rx="5" ry="2" transform="rotate(6 396 98)"/><ellipse cx="350" cy="151" rx="6" ry="3" transform="rotate(30 350 151)"/><ellipse cx="286" cy="44" rx="5" ry="4" transform="rotate(98 286 44)"/><ellipse cx="227" cy="57" rx="6" ry="3" transform="rotate(112 227 57)"/><ellipse cx="355" cy="134" rx="5" ry="3" transform="rotate(62 355 134)"/><ellipse cx="460" cy="78" rx="4" ry="3" transform="rotate(98 460 78)"/><ellipse cx="373" cy="82" rx="7" ry="3" transform="rotate(142 373 82)"/><ellipse cx="79" cy="148" rx="7" ry="5" transform="rotate(20 79 148)"/><ellipse cx="244" cy="78" rx="5" ry="5" transform="rotate(116 244 78)"/><ellipse cx="413" cy="66" rx="6" ry="5" transform="rotate(13 413 66)"/><ellipse cx="387" cy="62" rx="4" ry="2" transform="rotate(119 387 62)"/><ellipse cx="359" cy="128" rx="5" ry="4" transform="rotate(115 359 128)"/><ellipse cx="171" cy="130" rx="5" ry="4" transform="rotate(75 171 130)"/><ellipse cx="159" cy="145" rx="5" ry="4" transform="rotate(37 159 145)"/><ellipse cx="292" cy="104" rx="5" ry="4" transform="rotate(94 292 104)"/><ellipse cx="256" cy="132" rx="7" ry="5" transform="rotate(151 256 132)"/><ellipse cx="131" cy="133" rx="6" ry="5" transform="rotate(171 131 133)"/><ellipse cx="243" cy="93" rx="4" ry="2" transform="rotate(177 243 93)"/><ellipse cx="363" cy="50" rx="4" ry="2" transform="rotate(159 363 50)"/><ellipse cx="220" cy="60" rx="5" ry="3" transform="rotate(7 220 60)"/><ellipse cx="79" cy="127" rx="6" ry="4" transform="rotate(80 79 127)"/><ellipse cx="131" cy="156" rx="5" ry="4" transform="rotate(61 131 156)"/><ellipse cx="51" cy="104" rx="5" ry="4" transform="rotate(73 51 104)"/><ellipse cx="316" cy="96" rx="6" ry="3" transform="rotate(158 316 96)"/><ellipse cx="328" cy="51" rx="6" ry="5" transform="rotate(113 328 51)"/><ellipse cx="74" cy="83" rx="5" ry="3" transform="rotate(172 74 83)"/><ellipse cx="302" cy="137" rx="5" ry="5" transform="rotate(72 302 137)"/><ellipse cx="350" cy="133" rx="5" ry="3" transform="rotate(28 350 133)"/><ellipse cx="13" cy="89" rx="4" ry="2" transform="rotate(87 13 89)"/><ellipse cx="170" cy="188" rx="6" ry="4" transform="rotate(152 170 188)"/><ellipse cx="290" cy="71" rx="7" ry="4" transform="rotate(160 290 71)"/><ellipse cx="298" cy="149" rx="4" ry="3" transform="rotate(175 298 149)"/><ellipse cx="346" cy="90" rx="5" ry="4" transform="rotate(153 346 90)"/><ellipse cx="32" cy="96" rx="4" ry="3" transform="rotate(21 32 96)"/><ellipse cx="62" cy="106" rx="6" ry="4" transform="rotate(18 62 106)"/><ellipse cx="318" cy="89" rx="5" ry="4" transform="rotate(82 318 89)"/><ellipse cx="347" cy="136" rx="6" ry="5" transform="rotate(162 347 136)"/><ellipse cx="353" cy="80" rx="5" ry="4" transform="rotate(141 353 80)"/><ellipse cx="389" cy="123" rx="6" ry="2" transform="rotate(86 389 123)"/><ellipse cx="400" cy="106" rx="4" ry="3" transform="rotate(118 400 106)"/><ellipse cx="414" cy="129" rx="3" ry="3" transform="rotate(106 414 129)"/><ellipse cx="126" cy="120" rx="4" ry="3" transform="rotate(78 126 120)"/><ellipse cx="373" cy="52" rx="4" ry="2" transform="rotate(0 373 52)"/><ellipse cx="408" cy="63" rx="6" ry="3" transform="rotate(43 408 63)"/></g><g fill="url(#gPB)" filter="url(#soft)"><ellipse cx="216" cy="127" rx="13" ry="7" transform="rotate(-13 216 127)"/><ellipse cx="280" cy="60" rx="11" ry="6" transform="rotate(7 280 60)"/><ellipse cx="47" cy="81" rx="8" ry="5" transform="rotate(36 47 81)"/><ellipse cx="294" cy="55" rx="7" ry="4" transform="rotate(-45 294 55)"/><ellipse cx="92" cy="70" rx="7" ry="4" transform="rotate(18 92 70)"/><ellipse cx="401" cy="120" rx="11" ry="6" transform="rotate(98 401 120)"/><ellipse cx="219" cy="77" rx="14" ry="10" transform="rotate(10 219 77)"/><ellipse cx="338" cy="83" rx="9" ry="4" transform="rotate(-44 338 83)"/><ellipse cx="365" cy="99" rx="13" ry="7" transform="rotate(18 365 99)"/><ellipse cx="361" cy="48" rx="9" ry="4" transform="rotate(-45 361 48)"/><ellipse cx="380" cy="59" rx="11" ry="6" transform="rotate(-36 380 59)"/><ellipse cx="349" cy="50" rx="12" ry="5" transform="rotate(-20 349 50)"/><ellipse cx="103" cy="75" rx="14" ry="9" transform="rotate(8 103 75)"/><ellipse cx="421" cy="65" rx="10" ry="6" transform="rotate(-4 421 65)"/><ellipse cx="103" cy="73" rx="12" ry="6" transform="rotate(8 103 73)"/><ellipse cx="278" cy="70" rx="11" ry="6" transform="rotate(-17 278 70)"/><ellipse cx="457" cy="114" rx="11" ry="7" transform="rotate(74 457 114)"/><ellipse cx="390" cy="72" rx="8" ry="5" transform="rotate(17 390 72)"/><ellipse cx="420" cy="135" rx="10" ry="4" transform="rotate(67 420 135)"/><ellipse cx="458" cy="70" rx="12" ry="6" transform="rotate(9 458 70)"/><ellipse cx="285" cy="80" rx="8" ry="5" transform="rotate(-44 285 80)"/><ellipse cx="110" cy="127" rx="13" ry="8" transform="rotate(7 110 127)"/><ellipse cx="437" cy="64" rx="7" ry="3" transform="rotate(-18 437 64)"/><ellipse cx="177" cy="129" rx="8" ry="4" transform="rotate(13 177 129)"/><ellipse cx="330" cy="132" rx="8" ry="3" transform="rotate(66 330 132)"/><ellipse cx="304" cy="113" rx="12" ry="6" transform="rotate(21 304 113)"/><ellipse cx="38" cy="125" rx="12" ry="8" transform="rotate(102 38 125)"/><ellipse cx="436" cy="90" rx="12" ry="8" transform="rotate(109 436 90)"/><ellipse cx="200" cy="169" rx="13" ry="7" transform="rotate(96 200 169)"/><ellipse cx="183" cy="131" rx="11" ry="5" transform="rotate(-4 183 131)"/><ellipse cx="347" cy="97" rx="12" ry="7" transform="rotate(-18 347 97)"/><ellipse cx="287" cy="113" rx="9" ry="5" transform="rotate(-14 287 113)"/><ellipse cx="145" cy="148" rx="8" ry="4" transform="rotate(110 145 148)"/><ellipse cx="315" cy="106" rx="13" ry="7" transform="rotate(-2 315 106)"/><ellipse cx="96" cy="104" rx="13" ry="9" transform="rotate(49 96 104)"/><ellipse cx="184" cy="131" rx="9" ry="4" transform="rotate(-14 184 131)"/><ellipse cx="133" cy="57" rx="10" ry="5" transform="rotate(2 133 57)"/><ellipse cx="198" cy="139" rx="10" ry="5" transform="rotate(10 198 139)"/><ellipse cx="338" cy="129" rx="9" ry="6" transform="rotate(66 338 129)"/><ellipse cx="66" cy="108" rx="7" ry="5" transform="rotate(4 66 108)"/><ellipse cx="300" cy="107" rx="11" ry="7" transform="rotate(8 300 107)"/><ellipse cx="96" cy="112" rx="8" ry="3" transform="rotate(20 96 112)"/><ellipse cx="341" cy="59" rx="9" ry="4" transform="rotate(-0 341 59)"/><ellipse cx="249" cy="137" rx="12" ry="6" transform="rotate(105 249 137)"/><ellipse cx="64" cy="108" rx="11" ry="8" transform="rotate(13 64 108)"/><ellipse cx="222" cy="144" rx="8" ry="5" transform="rotate(106 222 144)"/><ellipse cx="306" cy="155" rx="8" ry="6" transform="rotate(114 306 155)"/><ellipse cx="465" cy="123" rx="13" ry="6" transform="rotate(110 465 123)"/><ellipse cx="408" cy="89" rx="8" ry="4" transform="rotate(-10 408 89)"/><ellipse cx="366" cy="114" rx="7" ry="5" transform="rotate(68 366 114)"/><ellipse cx="381" cy="58" rx="9" ry="6" transform="rotate(-39 381 58)"/><ellipse cx="72" cy="119" rx="12" ry="8" transform="rotate(35 72 119)"/><ellipse cx="450" cy="115" rx="14" ry="6" transform="rotate(76 450 115)"/><ellipse cx="252" cy="79" rx="12" ry="7" transform="rotate(-12 252 79)"/><ellipse cx="402" cy="127" rx="9" ry="5" transform="rotate(107 402 127)"/><ellipse cx="429" cy="64" rx="13" ry="9" transform="rotate(-12 429 64)"/><ellipse cx="274" cy="63" rx="11" ry="6" transform="rotate(-7 274 63)"/><ellipse cx="247" cy="99" rx="13" ry="7" transform="rotate(-15 247 99)"/><ellipse cx="257" cy="101" rx="14" ry="9" transform="rotate(-30 257 101)"/><ellipse cx="226" cy="50" rx="10" ry="6" transform="rotate(14 226 50)"/><ellipse cx="228" cy="84" rx="8" ry="5" transform="rotate(16 228 84)"/><ellipse cx="110" cy="150" rx="9" ry="5" transform="rotate(96 110 150)"/><ellipse cx="60" cy="118" rx="9" ry="4" transform="rotate(92 60 118)"/><ellipse cx="209" cy="94" rx="10" ry="6" transform="rotate(-38 209 94)"/><ellipse cx="99" cy="140" rx="11" ry="6" transform="rotate(108 99 140)"/><ellipse cx="112" cy="160" rx="13" ry="9" transform="rotate(81 112 160)"/><ellipse cx="151" cy="192" rx="9" ry="6" transform="rotate(109 151 192)"/><ellipse cx="65" cy="70" rx="12" ry="6" transform="rotate(-6 65 70)"/><ellipse cx="396" cy="102" rx="13" ry="5" transform="rotate(85 396 102)"/><ellipse cx="97" cy="149" rx="13" ry="9" transform="rotate(71 97 149)"/><ellipse cx="242" cy="163" rx="11" ry="6" transform="rotate(74 242 163)"/><ellipse cx="20" cy="126" rx="11" ry="6" transform="rotate(72 20 126)"/><ellipse cx="89" cy="64" rx="13" ry="9" transform="rotate(52 89 64)"/><ellipse cx="453" cy="110" rx="12" ry="6" transform="rotate(88 453 110)"/><ellipse cx="246" cy="104" rx="11" ry="5" transform="rotate(0 246 104)"/><ellipse cx="402" cy="59" rx="10" ry="6" transform="rotate(-21 402 59)"/><ellipse cx="300" cy="99" rx="11" ry="6" transform="rotate(20 300 99)"/><ellipse cx="383" cy="73" rx="13" ry="8" transform="rotate(5 383 73)"/><ellipse cx="388" cy="100" rx="13" ry="9" transform="rotate(100 388 100)"/><ellipse cx="194" cy="156" rx="7" ry="4" transform="rotate(88 194 156)"/><ellipse cx="305" cy="139" rx="9" ry="6" transform="rotate(98 305 139)"/><ellipse cx="162" cy="145" rx="11" ry="6" transform="rotate(14 162 145)"/><ellipse cx="294" cy="159" rx="9" ry="5" transform="rotate(68 294 159)"/><ellipse cx="95" cy="94" rx="8" ry="4" transform="rotate(50 95 94)"/><ellipse cx="263" cy="118" rx="14" ry="8" transform="rotate(21 263 118)"/><ellipse cx="38" cy="134" rx="12" ry="5" transform="rotate(112 38 134)"/><ellipse cx="78" cy="111" rx="8" ry="4" transform="rotate(30 78 111)"/><ellipse cx="201" cy="121" rx="11" ry="6" transform="rotate(-29 201 121)"/><ellipse cx="313" cy="127" rx="9" ry="6" transform="rotate(80 313 127)"/><ellipse cx="360" cy="97" rx="13" ry="8" transform="rotate(-45 360 97)"/><ellipse cx="206" cy="112" rx="14" ry="7" transform="rotate(-12 206 112)"/><ellipse cx="389" cy="135" rx="8" ry="5" transform="rotate(88 389 135)"/><ellipse cx="252" cy="49" rx="10" ry="6" transform="rotate(-17 252 49)"/><ellipse cx="126" cy="131" rx="10" ry="6" transform="rotate(24 126 131)"/><ellipse cx="350" cy="70" rx="8" ry="5" transform="rotate(6 350 70)"/><ellipse cx="298" cy="91" rx="9" ry="5" transform="rotate(-9 298 91)"/><ellipse cx="282" cy="140" rx="12" ry="6" transform="rotate(77 282 140)"/><ellipse cx="31" cy="75" rx="10" ry="6" transform="rotate(-6 31 75)"/><ellipse cx="259" cy="40" rx="8" ry="5" transform="rotate(-10 259 40)"/><ellipse cx="301" cy="94" rx="10" ry="5" transform="rotate(-25 301 94)"/><ellipse cx="386" cy="139" rx="12" ry="6" transform="rotate(86 386 139)"/><ellipse cx="124" cy="172" rx="10" ry="6" transform="rotate(114 124 172)"/><ellipse cx="156" cy="125" rx="12" ry="8" transform="rotate(17 156 125)"/><ellipse cx="41" cy="128" rx="10" ry="6" transform="rotate(80 41 128)"/><ellipse cx="103" cy="146" rx="8" ry="4" transform="rotate(101 103 146)"/><ellipse cx="331" cy="78" rx="8" ry="4" transform="rotate(2 331 78)"/><ellipse cx="338" cy="129" rx="13" ry="9" transform="rotate(111 338 129)"/><ellipse cx="210" cy="171" rx="9" ry="5" transform="rotate(85 210 171)"/><ellipse cx="120" cy="92" rx="10" ry="5" transform="rotate(15 120 92)"/><ellipse cx="186" cy="62" rx="11" ry="7" transform="rotate(-11 186 62)"/><ellipse cx="398" cy="128" rx="8" ry="5" transform="rotate(109 398 128)"/><ellipse cx="246" cy="124" rx="11" ry="8" transform="rotate(-3 246 124)"/><ellipse cx="261" cy="168" rx="8" ry="3" transform="rotate(102 261 168)"/><ellipse cx="303" cy="53" rx="12" ry="7" transform="rotate(-32 303 53)"/><ellipse cx="106" cy="164" rx="11" ry="7" transform="rotate(85 106 164)"/><ellipse cx="321" cy="115" rx="11" ry="7" transform="rotate(100 321 115)"/><ellipse cx="436" cy="100" rx="13" ry="8" transform="rotate(108 436 100)"/><ellipse cx="305" cy="121" rx="12" ry="8" transform="rotate(86 305 121)"/><ellipse cx="201" cy="53" rx="12" ry="8" transform="rotate(-23 201 53)"/><ellipse cx="81" cy="64" rx="10" ry="5" transform="rotate(55 81 64)"/><ellipse cx="30" cy="82" rx="8" ry="5" transform="rotate(41 30 82)"/><ellipse cx="219" cy="132" rx="13" ry="5" transform="rotate(-41 219 132)"/><ellipse cx="89" cy="66" rx="9" ry="5" transform="rotate(29 89 66)"/><ellipse cx="108" cy="60" rx="9" ry="4" transform="rotate(40 108 60)"/><ellipse cx="150" cy="125" rx="13" ry="7" transform="rotate(5 150 125)"/><ellipse cx="164" cy="125" rx="14" ry="7" transform="rotate(-34 164 125)"/><ellipse cx="382" cy="96" rx="11" ry="6" transform="rotate(-30 382 96)"/><ellipse cx="226" cy="94" rx="13" ry="8" transform="rotate(-7 226 94)"/><ellipse cx="155" cy="73" rx="13" ry="7" transform="rotate(32 155 73)"/><ellipse cx="255" cy="54" rx="12" ry="5" transform="rotate(8 255 54)"/><ellipse cx="41" cy="75" rx="12" ry="5" transform="rotate(21 41 75)"/><ellipse cx="146" cy="168" rx="10" ry="7" transform="rotate(70 146 168)"/><ellipse cx="394" cy="64" rx="11" ry="6" transform="rotate(-38 394 64)"/><ellipse cx="396" cy="83" rx="9" ry="4" transform="rotate(-28 396 83)"/><ellipse cx="223" cy="155" rx="10" ry="6" transform="rotate(70 223 155)"/><ellipse cx="189" cy="110" rx="14" ry="9" transform="rotate(-3 189 110)"/><ellipse cx="339" cy="70" rx="11" ry="6" transform="rotate(-48 339 70)"/><ellipse cx="100" cy="137" rx="9" ry="5" transform="rotate(92 100 137)"/><ellipse cx="143" cy="87" rx="10" ry="6" transform="rotate(5 143 87)"/><ellipse cx="97" cy="158" rx="9" ry="6" transform="rotate(93 97 158)"/><ellipse cx="345" cy="86" rx="13" ry="5" transform="rotate(-39 345 86)"/><ellipse cx="47" cy="148" rx="12" ry="5" transform="rotate(85 47 148)"/><ellipse cx="399" cy="133" rx="8" ry="4" transform="rotate(73 399 133)"/><ellipse cx="61" cy="100" rx="8" ry="5" transform="rotate(17 61 100)"/><ellipse cx="244" cy="143" rx="12" ry="8" transform="rotate(84 244 143)"/><ellipse cx="159" cy="101" rx="7" ry="4" transform="rotate(36 159 101)"/><ellipse cx="315" cy="136" rx="7" ry="4" transform="rotate(82 315 136)"/><ellipse cx="310" cy="46" rx="10" ry="5" transform="rotate(6 310 46)"/><ellipse cx="393" cy="136" rx="8" ry="5" transform="rotate(110 393 136)"/><ellipse cx="262" cy="90" rx="11" ry="5" transform="rotate(1 262 90)"/><ellipse cx="299" cy="62" rx="8" ry="4" transform="rotate(-9 299 62)"/><ellipse cx="332" cy="86" rx="14" ry="7" transform="rotate(-17 332 86)"/><ellipse cx="260" cy="127" rx="11" ry="5" transform="rotate(15 260 127)"/><ellipse cx="287" cy="49" rx="13" ry="6" transform="rotate(14 287 49)"/><ellipse cx="116" cy="130" rx="13" ry="6" transform="rotate(25 116 130)"/><ellipse cx="148" cy="147" rx="12" ry="6" transform="rotate(95 148 147)"/><ellipse cx="97" cy="111" rx="8" ry="4" transform="rotate(27 97 111)"/><ellipse cx="84" cy="120" rx="9" ry="5" transform="rotate(10 84 120)"/><ellipse cx="320" cy="53" rx="14" ry="8" transform="rotate(-16 320 53)"/><ellipse cx="197" cy="139" rx="12" ry="7" transform="rotate(4 197 139)"/><ellipse cx="196" cy="105" rx="11" ry="7" transform="rotate(-12 196 105)"/><ellipse cx="251" cy="104" rx="13" ry="7" transform="rotate(-45 251 104)"/><ellipse cx="349" cy="134" rx="12" ry="6" transform="rotate(95 349 134)"/><ellipse cx="214" cy="117" rx="10" ry="4" transform="rotate(-0 214 117)"/><ellipse cx="251" cy="70" rx="9" ry="5" transform="rotate(-32 251 70)"/><ellipse cx="413" cy="102" rx="13" ry="6" transform="rotate(102 413 102)"/><ellipse cx="61" cy="123" rx="14" ry="5" transform="rotate(77 61 123)"/><ellipse cx="144" cy="85" rx="7" ry="5" transform="rotate(44 144 85)"/><ellipse cx="190" cy="91" rx="11" ry="5" transform="rotate(-47 190 91)"/><ellipse cx="428" cy="82" rx="10" ry="7" transform="rotate(19 428 82)"/><ellipse cx="226" cy="64" rx="9" ry="6" transform="rotate(14 226 64)"/><ellipse cx="170" cy="112" rx="8" ry="5" transform="rotate(21 170 112)"/><ellipse cx="98" cy="140" rx="8" ry="6" transform="rotate(68 98 140)"/><ellipse cx="52" cy="157" rx="9" ry="6" transform="rotate(108 52 157)"/><ellipse cx="340" cy="51" rx="12" ry="8" transform="rotate(-18 340 51)"/><ellipse cx="148" cy="154" rx="8" ry="4" transform="rotate(77 148 154)"/><ellipse cx="179" cy="145" rx="13" ry="8" transform="rotate(-33 179 145)"/><ellipse cx="318" cy="77" rx="11" ry="5" transform="rotate(20 318 77)"/><ellipse cx="211" cy="122" rx="11" ry="4" transform="rotate(-7 211 122)"/><ellipse cx="137" cy="72" rx="13" ry="5" transform="rotate(7 137 72)"/><ellipse cx="360" cy="71" rx="9" ry="5" transform="rotate(-36 360 71)"/><ellipse cx="18" cy="110" rx="12" ry="6" transform="rotate(111 18 110)"/><ellipse cx="239" cy="59" rx="11" ry="6" transform="rotate(-24 239 59)"/><ellipse cx="247" cy="118" rx="13" ry="8" transform="rotate(-13 247 118)"/><ellipse cx="372" cy="57" rx="11" ry="5" transform="rotate(-18 372 57)"/><ellipse cx="377" cy="69" rx="10" ry="5" transform="rotate(-8 377 69)"/><ellipse cx="285" cy="155" rx="11" ry="7" transform="rotate(74 285 155)"/><ellipse cx="237" cy="105" rx="10" ry="5" transform="rotate(7 237 105)"/><ellipse cx="272" cy="124" rx="13" ry="6" transform="rotate(-39 272 124)"/><ellipse cx="151" cy="138" rx="11" ry="5" transform="rotate(28 151 138)"/><ellipse cx="83" cy="73" rx="8" ry="5" transform="rotate(45 83 73)"/><ellipse cx="197" cy="92" rx="9" ry="6" transform="rotate(-46 197 92)"/><ellipse cx="234" cy="163" rx="14" ry="6" transform="rotate(88 234 163)"/><ellipse cx="69" cy="97" rx="9" ry="5" transform="rotate(-8 69 97)"/><ellipse cx="111" cy="72" rx="11" ry="5" transform="rotate(19 111 72)"/><ellipse cx="444" cy="92" rx="9" ry="6" transform="rotate(96 444 92)"/><ellipse cx="21" cy="99" rx="12" ry="5" transform="rotate(11 21 99)"/><ellipse cx="221" cy="97" rx="13" ry="7" transform="rotate(6 221 97)"/><ellipse cx="104" cy="89" rx="8" ry="5" transform="rotate(-2 104 89)"/><ellipse cx="99" cy="65" rx="10" ry="5" transform="rotate(18 99 65)"/><ellipse cx="411" cy="64" rx="10" ry="4" transform="rotate(-1 411 64)"/><ellipse cx="174" cy="76" rx="7" ry="3" transform="rotate(-31 174 76)"/><ellipse cx="341" cy="75" rx="10" ry="4" transform="rotate(17 341 75)"/><ellipse cx="173" cy="164" rx="12" ry="8" transform="rotate(66 173 164)"/><ellipse cx="155" cy="96" rx="8" ry="5" transform="rotate(10 155 96)"/><ellipse cx="367" cy="120" rx="7" ry="4" transform="rotate(77 367 120)"/><ellipse cx="150" cy="103" rx="11" ry="5" transform="rotate(36 150 103)"/><ellipse cx="125" cy="157" rx="12" ry="5" transform="rotate(75 125 157)"/><ellipse cx="135" cy="155" rx="10" ry="5" transform="rotate(108 135 155)"/><ellipse cx="109" cy="79" rx="9" ry="4" transform="rotate(-10 109 79)"/><ellipse cx="14" cy="140" rx="11" ry="7" transform="rotate(114 14 140)"/><ellipse cx="143" cy="147" rx="13" ry="6" transform="rotate(99 143 147)"/><ellipse cx="414" cy="69" rx="11" ry="5" transform="rotate(-19 414 69)"/><ellipse cx="184" cy="86" rx="10" ry="5" transform="rotate(-38 184 86)"/><ellipse cx="193" cy="112" rx="8" ry="5" transform="rotate(-32 193 112)"/><ellipse cx="46" cy="88" rx="10" ry="4" transform="rotate(28 46 88)"/><ellipse cx="334" cy="126" rx="12" ry="5" transform="rotate(85 334 126)"/><ellipse cx="237" cy="132" rx="10" ry="5" transform="rotate(-31 237 132)"/><ellipse cx="13" cy="89" rx="13" ry="8" transform="rotate(5 13 89)"/><ellipse cx="319" cy="60" rx="10" ry="6" transform="rotate(18 319 60)"/><ellipse cx="174" cy="130" rx="14" ry="9" transform="rotate(-5 174 130)"/><ellipse cx="296" cy="101" rx="10" ry="5" transform="rotate(9 296 101)"/><ellipse cx="419" cy="95" rx="13" ry="5" transform="rotate(72 419 95)"/><ellipse cx="242" cy="82" rx="10" ry="7" transform="rotate(-39 242 82)"/><ellipse cx="93" cy="68" rx="12" ry="6" transform="rotate(-13 93 68)"/><ellipse cx="260" cy="98" rx="9" ry="5" transform="rotate(-3 260 98)"/><ellipse cx="262" cy="139" rx="11" ry="7" transform="rotate(113 262 139)"/><ellipse cx="160" cy="89" rx="13" ry="7" transform="rotate(37 160 89)"/><ellipse cx="332" cy="150" rx="14" ry="9" transform="rotate(73 332 150)"/><ellipse cx="297" cy="115" rx="11" ry="6" transform="rotate(-29 297 115)"/><ellipse cx="357" cy="123" rx="9" ry="4" transform="rotate(81 357 123)"/><ellipse cx="86" cy="119" rx="8" ry="3" transform="rotate(-8 86 119)"/><ellipse cx="50" cy="153" rx="8" ry="4" transform="rotate(104 50 153)"/><ellipse cx="230" cy="56" rx="13" ry="9" transform="rotate(-45 230 56)"/><ellipse cx="122" cy="118" rx="13" ry="7" transform="rotate(37 122 118)"/><ellipse cx="121" cy="155" rx="9" ry="5" transform="rotate(103 121 155)"/><ellipse cx="271" cy="102" rx="12" ry="7" transform="rotate(9 271 102)"/><ellipse cx="382" cy="49" rx="10" ry="6" transform="rotate(-33 382 49)"/><ellipse cx="328" cy="102" rx="11" ry="6" transform="rotate(16 328 102)"/><ellipse cx="340" cy="48" rx="7" ry="4" transform="rotate(2 340 48)"/><ellipse cx="259" cy="113" rx="10" ry="5" transform="rotate(7 259 113)"/><ellipse cx="400" cy="78" rx="10" ry="6" transform="rotate(5 400 78)"/><ellipse cx="467" cy="97" rx="12" ry="7" transform="rotate(105 467 97)"/><ellipse cx="121" cy="114" rx="8" ry="4" transform="rotate(-12 121 114)"/><ellipse cx="270" cy="53" rx="11" ry="5" transform="rotate(-33 270 53)"/><ellipse cx="231" cy="92" rx="9" ry="4" transform="rotate(-44 231 92)"/><ellipse cx="425" cy="82" rx="8" ry="3" transform="rotate(-15 425 82)"/><ellipse cx="413" cy="114" rx="10" ry="6" transform="rotate(85 413 114)"/><ellipse cx="29" cy="126" rx="12" ry="7" transform="rotate(79 29 126)"/><ellipse cx="37" cy="91" rx="12" ry="6" transform="rotate(23 37 91)"/><ellipse cx="252" cy="172" rx="13" ry="8" transform="rotate(85 252 172)"/><ellipse cx="193" cy="153" rx="9" ry="6" transform="rotate(66 193 153)"/><ellipse cx="275" cy="68" rx="10" ry="5" transform="rotate(-3 275 68)"/><ellipse cx="386" cy="92" rx="11" ry="6" transform="rotate(-29 386 92)"/><ellipse cx="431" cy="85" rx="8" ry="4" transform="rotate(3 431 85)"/><ellipse cx="102" cy="160" rx="11" ry="7" transform="rotate(74 102 160)"/><ellipse cx="168" cy="104" rx="7" ry="4" transform="rotate(-21 168 104)"/><ellipse cx="154" cy="123" rx="14" ry="6" transform="rotate(49 154 123)"/><ellipse cx="154" cy="162" rx="8" ry="5" transform="rotate(87 154 162)"/><ellipse cx="458" cy="66" rx="10" ry="6" transform="rotate(-37 458 66)"/><ellipse cx="132" cy="148" rx="14" ry="7" transform="rotate(74 132 148)"/><ellipse cx="72" cy="141" rx="10" ry="6" transform="rotate(76 72 141)"/><ellipse cx="408" cy="140" rx="11" ry="6" transform="rotate(71 408 140)"/><ellipse cx="217" cy="146" rx="10" ry="5" transform="rotate(77 217 146)"/><ellipse cx="287" cy="130" rx="11" ry="4" transform="rotate(96 287 130)"/><ellipse cx="214" cy="133" rx="11" ry="8" transform="rotate(-38 214 133)"/><ellipse cx="352" cy="83" rx="12" ry="8" transform="rotate(-21 352 83)"/><ellipse cx="113" cy="177" rx="12" ry="8" transform="rotate(106 113 177)"/><ellipse cx="380" cy="119" rx="14" ry="6" transform="rotate(109 380 119)"/><ellipse cx="339" cy="72" rx="13" ry="7" transform="rotate(-11 339 72)"/><ellipse cx="412" cy="62" rx="9" ry="5" transform="rotate(-44 412 62)"/><ellipse cx="265" cy="168" rx="10" ry="5" transform="rotate(105 265 168)"/><ellipse cx="380" cy="54" rx="10" ry="4" transform="rotate(-46 380 54)"/><ellipse cx="166" cy="182" rx="13" ry="6" transform="rotate(74 166 182)"/><ellipse cx="186" cy="179" rx="11" ry="8" transform="rotate(69 186 179)"/><ellipse cx="347" cy="62" rx="12" ry="6" transform="rotate(-48 347 62)"/><ellipse cx="163" cy="83" rx="11" ry="6" transform="rotate(29 163 83)"/><ellipse cx="331" cy="59" rx="8" ry="5" transform="rotate(-16 331 59)"/><ellipse cx="171" cy="62" rx="14" ry="8" transform="rotate(3 171 62)"/><ellipse cx="173" cy="83" rx="10" ry="4" transform="rotate(-5 173 83)"/><ellipse cx="203" cy="174" rx="10" ry="5" transform="rotate(90 203 174)"/><ellipse cx="448" cy="89" rx="12" ry="6" transform="rotate(94 448 89)"/><ellipse cx="137" cy="183" rx="9" ry="6" transform="rotate(99 137 183)"/><ellipse cx="186" cy="160" rx="11" ry="6" transform="rotate(68 186 160)"/><ellipse cx="201" cy="77" rx="10" ry="7" transform="rotate(-28 201 77)"/><ellipse cx="331" cy="147" rx="9" ry="5" transform="rotate(72 331 147)"/><ellipse cx="426" cy="72" rx="10" ry="5" transform="rotate(8 426 72)"/><ellipse cx="405" cy="133" rx="11" ry="5" transform="rotate(110 405 133)"/><ellipse cx="44" cy="92" rx="10" ry="6" transform="rotate(34 44 92)"/><ellipse cx="165" cy="188" rx="14" ry="6" transform="rotate(97 165 188)"/><ellipse cx="224" cy="92" rx="10" ry="5" transform="rotate(-2 224 92)"/><ellipse cx="189" cy="175" rx="12" ry="7" transform="rotate(115 189 175)"/><ellipse cx="34" cy="110" rx="10" ry="6" transform="rotate(76 34 110)"/><ellipse cx="177" cy="53" rx="10" ry="6" transform="rotate(-43 177 53)"/><ellipse cx="81" cy="143" rx="11" ry="7" transform="rotate(78 81 143)"/><ellipse cx="370" cy="48" rx="10" ry="4" transform="rotate(11 370 48)"/><ellipse cx="13" cy="90" rx="11" ry="6" transform="rotate(-5 13 90)"/><ellipse cx="376" cy="81" rx="11" ry="5" transform="rotate(-9 376 81)"/><ellipse cx="245" cy="80" rx="12" ry="6" transform="rotate(-20 245 80)"/><ellipse cx="216" cy="127" rx="10" ry="7" transform="rotate(-42 216 127)"/><ellipse cx="405" cy="55" rx="14" ry="8" transform="rotate(-21 405 55)"/><ellipse cx="459" cy="101" rx="7" ry="3" transform="rotate(106 459 101)"/><ellipse cx="76" cy="122" rx="7" ry="3" transform="rotate(80 76 122)"/><ellipse cx="438" cy="86" rx="10" ry="6" transform="rotate(13 438 86)"/><ellipse cx="451" cy="129" rx="11" ry="7" transform="rotate(85 451 129)"/><ellipse cx="144" cy="159" rx="9" ry="4" transform="rotate(86 144 159)"/><ellipse cx="228" cy="91" rx="10" ry="5" transform="rotate(-46 228 91)"/><ellipse cx="252" cy="125" rx="10" ry="5" transform="rotate(-42 252 125)"/><ellipse cx="178" cy="83" rx="10" ry="5" transform="rotate(3 178 83)"/><ellipse cx="457" cy="92" rx="11" ry="6" transform="rotate(80 457 92)"/><ellipse cx="291" cy="133" rx="9" ry="5" transform="rotate(91 291 133)"/><ellipse cx="46" cy="72" rx="9" ry="6" transform="rotate(17 46 72)"/><ellipse cx="410" cy="99" rx="9" ry="5" transform="rotate(69 410 99)"/><ellipse cx="158" cy="84" rx="13" ry="8" transform="rotate(32 158 84)"/><ellipse cx="25" cy="139" rx="11" ry="7" transform="rotate(97 25 139)"/><ellipse cx="359" cy="131" rx="7" ry="4" transform="rotate(86 359 131)"/><ellipse cx="372" cy="106" rx="12" ry="6" transform="rotate(87 372 106)"/><ellipse cx="209" cy="48" rx="9" ry="6" transform="rotate(-44 209 48)"/><ellipse cx="318" cy="125" rx="8" ry="3" transform="rotate(81 318 125)"/><ellipse cx="454" cy="127" rx="13" ry="6" transform="rotate(86 454 127)"/><ellipse cx="207" cy="95" rx="12" ry="8" transform="rotate(-14 207 95)"/><ellipse cx="329" cy="96" rx="12" ry="5" transform="rotate(3 329 96)"/><ellipse cx="81" cy="132" rx="8" ry="4" transform="rotate(73 81 132)"/><ellipse cx="168" cy="133" rx="11" ry="5" transform="rotate(-9 168 133)"/><ellipse cx="401" cy="91" rx="11" ry="6" transform="rotate(20 401 91)"/><ellipse cx="157" cy="152" rx="9" ry="4" transform="rotate(102 157 152)"/><ellipse cx="275" cy="73" rx="7" ry="5" transform="rotate(-23 275 73)"/><ellipse cx="342" cy="104" rx="11" ry="6" transform="rotate(19 342 104)"/><ellipse cx="433" cy="109" rx="10" ry="5" transform="rotate(103 433 109)"/><ellipse cx="50" cy="82" rx="13" ry="5" transform="rotate(36 50 82)"/><ellipse cx="271" cy="126" rx="9" ry="4" transform="rotate(113 271 126)"/><ellipse cx="106" cy="63" rx="11" ry="6" transform="rotate(-5 106 63)"/><ellipse cx="365" cy="131" rx="13" ry="9" transform="rotate(99 365 131)"/><ellipse cx="343" cy="79" rx="13" ry="8" transform="rotate(-30 343 79)"/><ellipse cx="257" cy="72" rx="9" ry="4" transform="rotate(-40 257 72)"/><ellipse cx="232" cy="76" rx="9" ry="4" transform="rotate(-13 232 76)"/><ellipse cx="416" cy="56" rx="13" ry="9" transform="rotate(-6 416 56)"/><ellipse cx="260" cy="158" rx="11" ry="6" transform="rotate(111 260 158)"/><ellipse cx="369" cy="74" rx="7" ry="5" transform="rotate(-24 369 74)"/><ellipse cx="375" cy="69" rx="10" ry="5" transform="rotate(2 375 69)"/><ellipse cx="449" cy="118" rx="11" ry="6" transform="rotate(77 449 118)"/><ellipse cx="50" cy="128" rx="8" ry="5" transform="rotate(80 50 128)"/><ellipse cx="318" cy="39" rx="7" ry="4" transform="rotate(20 318 39)"/><ellipse cx="374" cy="120" rx="8" ry="4" transform="rotate(74 374 120)"/><ellipse cx="252" cy="90" rx="10" ry="5" transform="rotate(0 252 90)"/><ellipse cx="200" cy="114" rx="8" ry="4" transform="rotate(-10 200 114)"/><ellipse cx="66" cy="81" rx="9" ry="6" transform="rotate(53 66 81)"/><ellipse cx="234" cy="133" rx="12" ry="7" transform="rotate(-6 234 133)"/><ellipse cx="248" cy="131" rx="12" ry="8" transform="rotate(65 248 131)"/><ellipse cx="195" cy="87" rx="9" ry="4" transform="rotate(5 195 87)"/><ellipse cx="126" cy="132" rx="11" ry="5" transform="rotate(34 126 132)"/><ellipse cx="218" cy="69" rx="13" ry="6" transform="rotate(-39 218 69)"/><ellipse cx="122" cy="113" rx="12" ry="6" transform="rotate(4 122 113)"/><ellipse cx="312" cy="74" rx="11" ry="5" transform="rotate(12 312 74)"/><ellipse cx="89" cy="69" rx="9" ry="5" transform="rotate(38 89 69)"/><ellipse cx="258" cy="41" rx="12" ry="6" transform="rotate(-34 258 41)"/><ellipse cx="178" cy="91" rx="13" ry="9" transform="rotate(-22 178 91)"/><ellipse cx="373" cy="88" rx="13" ry="6" transform="rotate(-29 373 88)"/><ellipse cx="283" cy="160" rx="10" ry="7" transform="rotate(66 283 160)"/><ellipse cx="239" cy="95" rx="7" ry="5" transform="rotate(-39 239 95)"/><ellipse cx="164" cy="194" rx="8" ry="5" transform="rotate(112 164 194)"/><ellipse cx="217" cy="94" rx="8" ry="4" transform="rotate(17 217 94)"/><ellipse cx="147" cy="60" rx="8" ry="4" transform="rotate(25 147 60)"/><ellipse cx="271" cy="163" rx="11" ry="7" transform="rotate(69 271 163)"/><ellipse cx="149" cy="163" rx="13" ry="7" transform="rotate(73 149 163)"/><ellipse cx="159" cy="129" rx="9" ry="6" transform="rotate(55 159 129)"/><ellipse cx="220" cy="135" rx="13" ry="7" transform="rotate(-36 220 135)"/><ellipse cx="351" cy="65" rx="7" ry="3" transform="rotate(7 351 65)"/><ellipse cx="239" cy="144" rx="10" ry="5" transform="rotate(66 239 144)"/><ellipse cx="126" cy="138" rx="10" ry="5" transform="rotate(96 126 138)"/><ellipse cx="152" cy="91" rx="13" ry="8" transform="rotate(16 152 91)"/><ellipse cx="258" cy="109" rx="9" ry="6" transform="rotate(-33 258 109)"/><ellipse cx="420" cy="56" rx="11" ry="7" transform="rotate(-29 420 56)"/><ellipse cx="83" cy="156" rx="9" ry="5" transform="rotate(73 83 156)"/><ellipse cx="451" cy="78" rx="8" ry="5" transform="rotate(-25 451 78)"/><ellipse cx="267" cy="116" rx="13" ry="7" transform="rotate(-22 267 116)"/><ellipse cx="130" cy="130" rx="11" ry="6" transform="rotate(-7 130 130)"/><ellipse cx="238" cy="113" rx="11" ry="8" transform="rotate(-29 238 113)"/><ellipse cx="381" cy="69" rx="13" ry="8" transform="rotate(-31 381 69)"/><ellipse cx="430" cy="117" rx="10" ry="6" transform="rotate(112 430 117)"/><ellipse cx="234" cy="113" rx="9" ry="6" transform="rotate(-14 234 113)"/><ellipse cx="164" cy="62" rx="9" ry="6" transform="rotate(7 164 62)"/><ellipse cx="382" cy="59" rx="13" ry="6" transform="rotate(-32 382 59)"/><ellipse cx="245" cy="88" rx="13" ry="7" transform="rotate(15 245 88)"/><ellipse cx="33" cy="146" rx="8" ry="5" transform="rotate(109 33 146)"/><ellipse cx="149" cy="60" rx="12" ry="7" transform="rotate(56 149 60)"/><ellipse cx="297" cy="49" rx="12" ry="5" transform="rotate(12 297 49)"/><ellipse cx="416" cy="129" rx="14" ry="8" transform="rotate(90 416 129)"/><ellipse cx="184" cy="90" rx="7" ry="3" transform="rotate(7 184 90)"/><ellipse cx="110" cy="144" rx="12" ry="8" transform="rotate(91 110 144)"/><ellipse cx="152" cy="76" rx="8" ry="5" transform="rotate(35 152 76)"/><ellipse cx="449" cy="86" rx="13" ry="9" transform="rotate(80 449 86)"/><ellipse cx="160" cy="77" rx="11" ry="6" transform="rotate(-11 160 77)"/><ellipse cx="411" cy="123" rx="10" ry="6" transform="rotate(77 411 123)"/><ellipse cx="96" cy="131" rx="9" ry="4" transform="rotate(68 96 131)"/><ellipse cx="27" cy="91" rx="11" ry="7" transform="rotate(32 27 91)"/><ellipse cx="198" cy="100" rx="9" ry="5" transform="rotate(18 198 100)"/><ellipse cx="60" cy="105" rx="12" ry="7" transform="rotate(26 60 105)"/><ellipse cx="430" cy="72" rx="11" ry="8" transform="rotate(-12 430 72)"/><ellipse cx="92" cy="164" rx="7" ry="3" transform="rotate(93 92 164)"/><ellipse cx="131" cy="156" rx="12" ry="6" transform="rotate(103 131 156)"/><ellipse cx="309" cy="153" rx="10" ry="5" transform="rotate(70 309 153)"/><ellipse cx="36" cy="75" rx="12" ry="6" transform="rotate(-4 36 75)"/><ellipse cx="204" cy="130" rx="12" ry="6" transform="rotate(-4 204 130)"/><ellipse cx="325" cy="137" rx="7" ry="4" transform="rotate(71 325 137)"/><ellipse cx="28" cy="112" rx="7" ry="3" transform="rotate(85 28 112)"/><ellipse cx="224" cy="46" rx="14" ry="9" transform="rotate(-15 224 46)"/><ellipse cx="281" cy="83" rx="14" ry="6" transform="rotate(-28 281 83)"/><ellipse cx="243" cy="100" rx="10" ry="7" transform="rotate(-31 243 100)"/><ellipse cx="215" cy="92" rx="10" ry="5" transform="rotate(-27 215 92)"/><ellipse cx="298" cy="101" rx="9" ry="6" transform="rotate(-17 298 101)"/><ellipse cx="218" cy="94" rx="13" ry="9" transform="rotate(6 218 94)"/><ellipse cx="192" cy="147" rx="12" ry="6" transform="rotate(101 192 147)"/><ellipse cx="319" cy="105" rx="12" ry="5" transform="rotate(5 319 105)"/><ellipse cx="164" cy="154" rx="7" ry="4" transform="rotate(103 164 154)"/><ellipse cx="125" cy="137" rx="9" ry="4" transform="rotate(57 125 137)"/><ellipse cx="30" cy="131" rx="13" ry="8" transform="rotate(85 30 131)"/><ellipse cx="282" cy="154" rx="12" ry="8" transform="rotate(94 282 154)"/><ellipse cx="121" cy="153" rx="11" ry="6" transform="rotate(114 121 153)"/><ellipse cx="156" cy="157" rx="14" ry="7" transform="rotate(93 156 157)"/><ellipse cx="252" cy="116" rx="8" ry="5" transform="rotate(14 252 116)"/><ellipse cx="316" cy="79" rx="13" ry="7" transform="rotate(-39 316 79)"/><ellipse cx="289" cy="109" rx="11" ry="7" transform="rotate(-9 289 109)"/><ellipse cx="454" cy="90" rx="12" ry="5" transform="rotate(80 454 90)"/><ellipse cx="330" cy="151" rx="13" ry="7" transform="rotate(79 330 151)"/><ellipse cx="172" cy="123" rx="7" ry="4" transform="rotate(-3 172 123)"/><ellipse cx="72" cy="83" rx="13" ry="9" transform="rotate(4 72 83)"/><ellipse cx="352" cy="74" rx="10" ry="6" transform="rotate(-47 352 74)"/><ellipse cx="102" cy="153" rx="12" ry="6" transform="rotate(109 102 153)"/><ellipse cx="106" cy="112" rx="9" ry="5" transform="rotate(44 106 112)"/><ellipse cx="272" cy="136" rx="14" ry="6" transform="rotate(76 272 136)"/><ellipse cx="296" cy="54" rx="14" ry="7" transform="rotate(-18 296 54)"/><ellipse cx="206" cy="175" rx="13" ry="8" transform="rotate(74 206 175)"/><ellipse cx="170" cy="153" rx="9" ry="6" transform="rotate(109 170 153)"/><ellipse cx="109" cy="92" rx="9" ry="5" transform="rotate(-10 109 92)"/><ellipse cx="401" cy="124" rx="11" ry="5" transform="rotate(67 401 124)"/><ellipse cx="86" cy="76" rx="12" ry="7" transform="rotate(10 86 76)"/><ellipse cx="224" cy="79" rx="11" ry="6" transform="rotate(-24 224 79)"/><ellipse cx="120" cy="79" rx="9" ry="4" transform="rotate(9 120 79)"/><ellipse cx="283" cy="75" rx="8" ry="5" transform="rotate(-16 283 75)"/><ellipse cx="245" cy="83" rx="13" ry="8" transform="rotate(-5 245 83)"/><ellipse cx="315" cy="151" rx="11" ry="6" transform="rotate(85 315 151)"/><ellipse cx="241" cy="111" rx="11" ry="6" transform="rotate(6 241 111)"/><ellipse cx="425" cy="67" rx="7" ry="4" transform="rotate(-47 425 67)"/><ellipse cx="379" cy="138" rx="9" ry="4" transform="rotate(108 379 138)"/><ellipse cx="217" cy="98" rx="11" ry="7" transform="rotate(20 217 98)"/><ellipse cx="37" cy="71" rx="14" ry="8" transform="rotate(23 37 71)"/><ellipse cx="149" cy="181" rx="11" ry="7" transform="rotate(69 149 181)"/><ellipse cx="72" cy="97" rx="11" ry="5" transform="rotate(26 72 97)"/><ellipse cx="447" cy="105" rx="12" ry="7" transform="rotate(94 447 105)"/><ellipse cx="84" cy="110" rx="13" ry="8" transform="rotate(2 84 110)"/><ellipse cx="214" cy="124" rx="9" ry="5" transform="rotate(-5 214 124)"/><ellipse cx="313" cy="65" rx="8" ry="5" transform="rotate(-26 313 65)"/><ellipse cx="50" cy="141" rx="9" ry="6" transform="rotate(101 50 141)"/><ellipse cx="69" cy="63" rx="7" ry="3" transform="rotate(20 69 63)"/><ellipse cx="456" cy="85" rx="9" ry="6" transform="rotate(74 456 85)"/><ellipse cx="303" cy="137" rx="14" ry="6" transform="rotate(93 303 137)"/><ellipse cx="183" cy="174" rx="9" ry="5" transform="rotate(74 183 174)"/><ellipse cx="116" cy="77" rx="13" ry="8" transform="rotate(-8 116 77)"/><ellipse cx="90" cy="69" rx="9" ry="6" transform="rotate(36 90 69)"/><ellipse cx="300" cy="96" rx="12" ry="7" transform="rotate(-45 300 96)"/><ellipse cx="235" cy="96" rx="11" ry="4" transform="rotate(-47 235 96)"/><ellipse cx="468" cy="93" rx="9" ry="4" transform="rotate(95 468 93)"/><ellipse cx="436" cy="59" rx="11" ry="6" transform="rotate(5 436 59)"/><ellipse cx="270" cy="70" rx="8" ry="5" transform="rotate(-44 270 70)"/><ellipse cx="92" cy="111" rx="13" ry="8" transform="rotate(39 92 111)"/><ellipse cx="418" cy="95" rx="8" ry="3" transform="rotate(107 418 95)"/><ellipse cx="138" cy="61" rx="8" ry="4" transform="rotate(32 138 61)"/><ellipse cx="256" cy="94" rx="8" ry="5" transform="rotate(-13 256 94)"/><ellipse cx="186" cy="112" rx="7" ry="4" transform="rotate(-35 186 112)"/><ellipse cx="423" cy="132" rx="10" ry="5" transform="rotate(112 423 132)"/><ellipse cx="65" cy="96" rx="12" ry="6" transform="rotate(36 65 96)"/><ellipse cx="137" cy="79" rx="12" ry="8" transform="rotate(36 137 79)"/><ellipse cx="440" cy="60" rx="10" ry="6" transform="rotate(5 440 60)"/><ellipse cx="174" cy="135" rx="14" ry="9" transform="rotate(-9 174 135)"/><ellipse cx="193" cy="128" rx="8" ry="5" transform="rotate(-45 193 128)"/><ellipse cx="300" cy="77" rx="9" ry="5" transform="rotate(-36 300 77)"/><ellipse cx="214" cy="180" rx="14" ry="7" transform="rotate(83 214 180)"/><ellipse cx="331" cy="61" rx="13" ry="6" transform="rotate(-10 331 61)"/><ellipse cx="158" cy="76" rx="14" ry="8" transform="rotate(-8 158 76)"/><ellipse cx="341" cy="69" rx="10" ry="6" transform="rotate(11 341 69)"/><ellipse cx="445" cy="102" rx="9" ry="5" transform="rotate(81 445 102)"/><ellipse cx="354" cy="110" rx="12" ry="5" transform="rotate(104 354 110)"/><ellipse cx="460" cy="63" rx="11" ry="5" transform="rotate(-47 460 63)"/><ellipse cx="198" cy="60" rx="12" ry="7" transform="rotate(-2 198 60)"/><ellipse cx="220" cy="175" rx="12" ry="7" transform="rotate(108 220 175)"/><ellipse cx="254" cy="50" rx="11" ry="7" transform="rotate(-25 254 50)"/><ellipse cx="59" cy="147" rx="12" ry="8" transform="rotate(93 59 147)"/><ellipse cx="138" cy="166" rx="11" ry="6" transform="rotate(66 138 166)"/><ellipse cx="228" cy="74" rx="11" ry="6" transform="rotate(-13 228 74)"/><ellipse cx="290" cy="149" rx="14" ry="9" transform="rotate(80 290 149)"/><ellipse cx="218" cy="118" rx="13" ry="7" transform="rotate(15 218 118)"/><ellipse cx="231" cy="98" rx="10" ry="5" transform="rotate(21 231 98)"/><ellipse cx="24" cy="99" rx="8" ry="5" transform="rotate(-2 24 99)"/><ellipse cx="73" cy="103" rx="11" ry="7" transform="rotate(18 73 103)"/><ellipse cx="142" cy="93" rx="13" ry="6" transform="rotate(-12 142 93)"/><ellipse cx="422" cy="113" rx="8" ry="3" transform="rotate(110 422 113)"/><ellipse cx="322" cy="65" rx="10" ry="6" transform="rotate(-45 322 65)"/><ellipse cx="445" cy="87" rx="8" ry="5" transform="rotate(70 445 87)"/><ellipse cx="20" cy="144" rx="10" ry="7" transform="rotate(105 20 144)"/><ellipse cx="288" cy="111" rx="9" ry="6" transform="rotate(-34 288 111)"/><ellipse cx="307" cy="40" rx="13" ry="9" transform="rotate(-6 307 40)"/><ellipse cx="154" cy="157" rx="13" ry="9" transform="rotate(67 154 157)"/><ellipse cx="241" cy="52" rx="11" ry="7" transform="rotate(12 241 52)"/><ellipse cx="120" cy="126" rx="9" ry="4" transform="rotate(39 120 126)"/><ellipse cx="362" cy="87" rx="10" ry="6" transform="rotate(2 362 87)"/><ellipse cx="222" cy="48" rx="8" ry="3" transform="rotate(9 222 48)"/><ellipse cx="237" cy="142" rx="10" ry="5" transform="rotate(74 237 142)"/><ellipse cx="63" cy="153" rx="11" ry="7" transform="rotate(103 63 153)"/><ellipse cx="462" cy="100" rx="12" ry="6" transform="rotate(86 462 100)"/><ellipse cx="176" cy="143" rx="9" ry="5" transform="rotate(10 176 143)"/><ellipse cx="402" cy="96" rx="11" ry="5" transform="rotate(81 402 96)"/><ellipse cx="439" cy="81" rx="10" ry="4" transform="rotate(-39 439 81)"/><ellipse cx="42" cy="73" rx="12" ry="6" transform="rotate(48 42 73)"/><ellipse cx="169" cy="112" rx="8" ry="4" transform="rotate(-19 169 112)"/><ellipse cx="134" cy="158" rx="7" ry="4" transform="rotate(105 134 158)"/><ellipse cx="157" cy="61" rx="8" ry="3" transform="rotate(42 157 61)"/><ellipse cx="217" cy="134" rx="9" ry="4" transform="rotate(-20 217 134)"/><ellipse cx="173" cy="192" rx="13" ry="7" transform="rotate(71 173 192)"/><ellipse cx="266" cy="44" rx="8" ry="4" transform="rotate(-38 266 44)"/><ellipse cx="361" cy="143" rx="10" ry="7" transform="rotate(98 361 143)"/><ellipse cx="77" cy="122" rx="10" ry="5" transform="rotate(101 77 122)"/><ellipse cx="329" cy="129" rx="13" ry="8" transform="rotate(70 329 129)"/><ellipse cx="149" cy="106" rx="10" ry="6" transform="rotate(7 149 106)"/><ellipse cx="371" cy="86" rx="13" ry="8" transform="rotate(-49 371 86)"/><ellipse cx="262" cy="44" rx="13" ry="6" transform="rotate(-30 262 44)"/><ellipse cx="366" cy="133" rx="12" ry="6" transform="rotate(91 366 133)"/><ellipse cx="98" cy="110" rx="9" ry="5" transform="rotate(-6 98 110)"/><ellipse cx="67" cy="62" rx="11" ry="6" transform="rotate(-13 67 62)"/><ellipse cx="182" cy="55" rx="13" ry="9" transform="rotate(-37 182 55)"/><ellipse cx="446" cy="64" rx="8" ry="4" transform="rotate(-33 446 64)"/><ellipse cx="227" cy="50" rx="9" ry="4" transform="rotate(-4 227 50)"/><ellipse cx="209" cy="109" rx="10" ry="5" transform="rotate(-17 209 109)"/><ellipse cx="327" cy="154" rx="9" ry="5" transform="rotate(72 327 154)"/><ellipse cx="23" cy="96" rx="10" ry="4" transform="rotate(-7 23 96)"/><ellipse cx="152" cy="93" rx="9" ry="4" transform="rotate(28 152 93)"/><ellipse cx="400" cy="95" rx="8" ry="4" transform="rotate(-48 400 95)"/><ellipse cx="365" cy="68" rx="12" ry="8" transform="rotate(-43 365 68)"/><ellipse cx="92" cy="83" rx="12" ry="8" transform="rotate(8 92 83)"/><ellipse cx="216" cy="91" rx="10" ry="7" transform="rotate(-31 216 91)"/><ellipse cx="383" cy="49" rx="9" ry="5" transform="rotate(10 383 49)"/><ellipse cx="325" cy="63" rx="13" ry="9" transform="rotate(-13 325 63)"/><ellipse cx="26" cy="78" rx="9" ry="5" transform="rotate(53 26 78)"/><ellipse cx="36" cy="71" rx="12" ry="6" transform="rotate(3 36 71)"/><ellipse cx="197" cy="125" rx="10" ry="6" transform="rotate(-29 197 125)"/><ellipse cx="161" cy="115" rx="10" ry="5" transform="rotate(-9 161 115)"/><ellipse cx="143" cy="80" rx="8" ry="3" transform="rotate(21 143 80)"/><ellipse cx="173" cy="106" rx="11" ry="4" transform="rotate(-42 173 106)"/><ellipse cx="374" cy="127" rx="10" ry="5" transform="rotate(103 374 127)"/><ellipse cx="240" cy="169" rx="13" ry="9" transform="rotate(101 240 169)"/><ellipse cx="321" cy="110" rx="11" ry="6" transform="rotate(-12 321 110)"/><ellipse cx="294" cy="134" rx="13" ry="6" transform="rotate(89 294 134)"/><ellipse cx="80" cy="128" rx="8" ry="5" transform="rotate(89 80 128)"/><ellipse cx="351" cy="82" rx="13" ry="5" transform="rotate(-33 351 82)"/><ellipse cx="370" cy="76" rx="8" ry="5" transform="rotate(2 370 76)"/><ellipse cx="229" cy="88" rx="8" ry="5" transform="rotate(16 229 88)"/><ellipse cx="61" cy="107" rx="9" ry="5" transform="rotate(-5 61 107)"/><ellipse cx="160" cy="100" rx="10" ry="5" transform="rotate(29 160 100)"/><ellipse cx="110" cy="71" rx="10" ry="6" transform="rotate(29 110 71)"/><ellipse cx="117" cy="168" rx="13" ry="6" transform="rotate(70 117 168)"/><ellipse cx="342" cy="112" rx="12" ry="8" transform="rotate(90 342 112)"/><ellipse cx="131" cy="121" rx="12" ry="6" transform="rotate(32 131 121)"/><ellipse cx="102" cy="68" rx="14" ry="9" transform="rotate(52 102 68)"/><ellipse cx="391" cy="128" rx="8" ry="5" transform="rotate(107 391 128)"/><ellipse cx="322" cy="146" rx="12" ry="6" transform="rotate(97 322 146)"/><ellipse cx="221" cy="64" rx="10" ry="6" transform="rotate(-11 221 64)"/><ellipse cx="191" cy="71" rx="9" ry="4" transform="rotate(-20 191 71)"/><ellipse cx="413" cy="136" rx="12" ry="7" transform="rotate(83 413 136)"/><ellipse cx="319" cy="136" rx="13" ry="9" transform="rotate(106 319 136)"/><ellipse cx="292" cy="92" rx="7" ry="5" transform="rotate(-5 292 92)"/><ellipse cx="427" cy="98" rx="7" ry="4" transform="rotate(83 427 98)"/><ellipse cx="132" cy="151" rx="8" ry="4" transform="rotate(85 132 151)"/><ellipse cx="61" cy="134" rx="10" ry="6" transform="rotate(82 61 134)"/><ellipse cx="254" cy="68" rx="7" ry="3" transform="rotate(14 254 68)"/><ellipse cx="140" cy="114" rx="11" ry="5" transform="rotate(24 140 114)"/><ellipse cx="33" cy="90" rx="9" ry="6" transform="rotate(41 33 90)"/><ellipse cx="334" cy="133" rx="13" ry="8" transform="rotate(68 334 133)"/><ellipse cx="64" cy="161" rx="13" ry="9" transform="rotate(104 64 161)"/><ellipse cx="77" cy="129" rx="11" ry="7" transform="rotate(72 77 129)"/><ellipse cx="461" cy="118" rx="9" ry="6" transform="rotate(84 461 118)"/><ellipse cx="35" cy="147" rx="9" ry="4" transform="rotate(80 35 147)"/><ellipse cx="290" cy="84" rx="12" ry="8" transform="rotate(20 290 84)"/><ellipse cx="122" cy="174" rx="8" ry="4" transform="rotate(69 122 174)"/><ellipse cx="62" cy="155" rx="11" ry="4" transform="rotate(105 62 155)"/><ellipse cx="390" cy="116" rx="10" ry="4" transform="rotate(100 390 116)"/><ellipse cx="21" cy="121" rx="13" ry="8" transform="rotate(71 21 121)"/><ellipse cx="344" cy="153" rx="9" ry="6" transform="rotate(94 344 153)"/><ellipse cx="198" cy="121" rx="9" ry="4" transform="rotate(13 198 121)"/><ellipse cx="168" cy="165" rx="10" ry="4" transform="rotate(65 168 165)"/><ellipse cx="25" cy="137" rx="11" ry="8" transform="rotate(80 25 137)"/><ellipse cx="113" cy="67" rx="8" ry="3" transform="rotate(22 113 67)"/><ellipse cx="201" cy="93" rx="14" ry="7" transform="rotate(9 201 93)"/><ellipse cx="254" cy="45" rx="7" ry="4" transform="rotate(12 254 45)"/><ellipse cx="112" cy="150" rx="13" ry="8" transform="rotate(77 112 150)"/><ellipse cx="177" cy="190" rx="7" ry="4" transform="rotate(67 177 190)"/><ellipse cx="419" cy="90" rx="8" ry="4" transform="rotate(-35 419 90)"/><ellipse cx="207" cy="137" rx="12" ry="5" transform="rotate(-12 207 137)"/><ellipse cx="29" cy="106" rx="13" ry="6" transform="rotate(106 29 106)"/><ellipse cx="118" cy="97" rx="13" ry="5" transform="rotate(26 118 97)"/><ellipse cx="256" cy="155" rx="14" ry="8" transform="rotate(76 256 155)"/><ellipse cx="96" cy="113" rx="9" ry="5" transform="rotate(-7 96 113)"/><ellipse cx="331" cy="102" rx="7" ry="3" transform="rotate(16 331 102)"/><ellipse cx="83" cy="157" rx="14" ry="6" transform="rotate(65 83 157)"/><ellipse cx="383" cy="135" rx="10" ry="4" transform="rotate(97 383 135)"/><ellipse cx="283" cy="142" rx="13" ry="8" transform="rotate(72 283 142)"/><ellipse cx="146" cy="53" rx="10" ry="4" transform="rotate(48 146 53)"/><ellipse cx="384" cy="66" rx="9" ry="4" transform="rotate(5 384 66)"/><ellipse cx="139" cy="104" rx="13" ry="9" transform="rotate(40 139 104)"/><ellipse cx="131" cy="137" rx="7" ry="4" transform="rotate(54 131 137)"/><ellipse cx="242" cy="53" rx="11" ry="5" transform="rotate(-17 242 53)"/><ellipse cx="40" cy="102" rx="13" ry="8" transform="rotate(47 40 102)"/><ellipse cx="219" cy="106" rx="7" ry="5" transform="rotate(-9 219 106)"/><ellipse cx="195" cy="53" rx="10" ry="4" transform="rotate(-41 195 53)"/><ellipse cx="40" cy="103" rx="8" ry="5" transform="rotate(30 40 103)"/><ellipse cx="413" cy="126" rx="8" ry="4" transform="rotate(107 413 126)"/><ellipse cx="279" cy="143" rx="11" ry="5" transform="rotate(75 279 143)"/><ellipse cx="207" cy="178" rx="14" ry="8" transform="rotate(78 207 178)"/><ellipse cx="24" cy="127" rx="10" ry="7" transform="rotate(75 24 127)"/><ellipse cx="415" cy="55" rx="7" ry="4" transform="rotate(-32 415 55)"/><ellipse cx="356" cy="77" rx="11" ry="5" transform="rotate(4 356 77)"/><ellipse cx="124" cy="183" rx="12" ry="8" transform="rotate(82 124 183)"/><ellipse cx="124" cy="143" rx="9" ry="4" transform="rotate(67 124 143)"/><ellipse cx="291" cy="70" rx="8" ry="5" transform="rotate(-39 291 70)"/><ellipse cx="360" cy="76" rx="10" ry="6" transform="rotate(9 360 76)"/><ellipse cx="297" cy="131" rx="9" ry="5" transform="rotate(93 297 131)"/><ellipse cx="119" cy="142" rx="13" ry="8" transform="rotate(76 119 142)"/><ellipse cx="15" cy="93" rx="10" ry="7" transform="rotate(25 15 93)"/><ellipse cx="247" cy="135" rx="11" ry="7" transform="rotate(93 247 135)"/><ellipse cx="264" cy="69" rx="8" ry="4" transform="rotate(13 264 69)"/><ellipse cx="451" cy="79" rx="11" ry="6" transform="rotate(-17 451 79)"/><ellipse cx="134" cy="63" rx="8" ry="4" transform="rotate(24 134 63)"/><ellipse cx="84" cy="142" rx="11" ry="7" transform="rotate(89 84 142)"/><ellipse cx="292" cy="80" rx="10" ry="6" transform="rotate(-34 292 80)"/><ellipse cx="350" cy="132" rx="14" ry="8" transform="rotate(92 350 132)"/><ellipse cx="366" cy="79" rx="10" ry="5" transform="rotate(2 366 79)"/><ellipse cx="343" cy="60" rx="14" ry="10" transform="rotate(-14 343 60)"/><ellipse cx="343" cy="137" rx="12" ry="7" transform="rotate(102 343 137)"/><ellipse cx="288" cy="141" rx="11" ry="7" transform="rotate(93 288 141)"/><ellipse cx="45" cy="148" rx="12" ry="6" transform="rotate(113 45 148)"/><ellipse cx="230" cy="57" rx="11" ry="5" transform="rotate(-37 230 57)"/><ellipse cx="423" cy="59" rx="12" ry="5" transform="rotate(-13 423 59)"/><ellipse cx="215" cy="141" rx="10" ry="5" transform="rotate(83 215 141)"/><ellipse cx="211" cy="183" rx="8" ry="4" transform="rotate(89 211 183)"/><ellipse cx="264" cy="169" rx="11" ry="6" transform="rotate(113 264 169)"/><ellipse cx="286" cy="76" rx="11" ry="7" transform="rotate(-46 286 76)"/><ellipse cx="309" cy="114" rx="9" ry="4" transform="rotate(-33 309 114)"/><ellipse cx="209" cy="103" rx="11" ry="5" transform="rotate(-6 209 103)"/><ellipse cx="226" cy="169" rx="13" ry="6" transform="rotate(114 226 169)"/><ellipse cx="261" cy="87" rx="9" ry="5" transform="rotate(-18 261 87)"/><ellipse cx="326" cy="73" rx="13" ry="6" transform="rotate(12 326 73)"/><ellipse cx="210" cy="99" rx="11" ry="6" transform="rotate(-11 210 99)"/><ellipse cx="85" cy="116" rx="13" ry="5" transform="rotate(-1 85 116)"/><ellipse cx="151" cy="115" rx="14" ry="8" transform="rotate(47 151 115)"/><ellipse cx="321" cy="70" rx="10" ry="5" transform="rotate(-41 321 70)"/><ellipse cx="440" cy="113" rx="8" ry="5" transform="rotate(105 440 113)"/><ellipse cx="132" cy="132" rx="8" ry="4" transform="rotate(0 132 132)"/><ellipse cx="242" cy="150" rx="9" ry="5" transform="rotate(94 242 150)"/><ellipse cx="218" cy="118" rx="8" ry="4" transform="rotate(-4 218 118)"/><ellipse cx="42" cy="124" rx="8" ry="4" transform="rotate(103 42 124)"/><ellipse cx="214" cy="53" rx="12" ry="8" transform="rotate(-5 214 53)"/><ellipse cx="213" cy="123" rx="12" ry="8" transform="rotate(6 213 123)"/><ellipse cx="120" cy="167" rx="8" ry="3" transform="rotate(90 120 167)"/><ellipse cx="89" cy="127" rx="9" ry="6" transform="rotate(87 89 127)"/><ellipse cx="217" cy="165" rx="10" ry="5" transform="rotate(71 217 165)"/><ellipse cx="328" cy="84" rx="11" ry="5" transform="rotate(-22 328 84)"/><ellipse cx="230" cy="119" rx="8" ry="5" transform="rotate(-31 230 119)"/><ellipse cx="193" cy="71" rx="11" ry="6" transform="rotate(-1 193 71)"/><ellipse cx="204" cy="167" rx="11" ry="5" transform="rotate(90 204 167)"/><ellipse cx="122" cy="80" rx="14" ry="7" transform="rotate(39 122 80)"/><ellipse cx="76" cy="140" rx="8" ry="4" transform="rotate(71 76 140)"/><ellipse cx="459" cy="93" rx="7" ry="4" transform="rotate(98 459 93)"/><ellipse cx="113" cy="118" rx="13" ry="7" transform="rotate(24 113 118)"/><ellipse cx="91" cy="121" rx="11" ry="6" transform="rotate(32 91 121)"/><ellipse cx="269" cy="143" rx="10" ry="6" transform="rotate(92 269 143)"/><ellipse cx="329" cy="126" rx="9" ry="4" transform="rotate(98 329 126)"/><ellipse cx="120" cy="137" rx="11" ry="6" transform="rotate(86 120 137)"/><ellipse cx="115" cy="81" rx="12" ry="8" transform="rotate(9 115 81)"/><ellipse cx="151" cy="107" rx="10" ry="6" transform="rotate(40 151 107)"/><ellipse cx="215" cy="107" rx="12" ry="6" transform="rotate(9 215 107)"/><ellipse cx="200" cy="127" rx="11" ry="5" transform="rotate(-48 200 127)"/><ellipse cx="134" cy="112" rx="14" ry="6" transform="rotate(50 134 112)"/><ellipse cx="397" cy="59" rx="11" ry="5" transform="rotate(-22 397 59)"/><ellipse cx="237" cy="173" rx="9" ry="5" transform="rotate(72 237 173)"/><ellipse cx="277" cy="132" rx="12" ry="6" transform="rotate(112 277 132)"/><ellipse cx="344" cy="129" rx="13" ry="6" transform="rotate(80 344 129)"/><ellipse cx="263" cy="134" rx="14" ry="8" transform="rotate(67 263 134)"/><ellipse cx="450" cy="111" rx="8" ry="5" transform="rotate(96 450 111)"/><ellipse cx="407" cy="126" rx="9" ry="5" transform="rotate(88 407 126)"/><ellipse cx="169" cy="131" rx="8" ry="4" transform="rotate(-41 169 131)"/><ellipse cx="15" cy="121" rx="12" ry="6" transform="rotate(110 15 121)"/><ellipse cx="290" cy="145" rx="9" ry="6" transform="rotate(82 290 145)"/><ellipse cx="403" cy="71" rx="14" ry="8" transform="rotate(-37 403 71)"/><ellipse cx="349" cy="55" rx="10" ry="5" transform="rotate(-26 349 55)"/><ellipse cx="174" cy="56" rx="10" ry="4" transform="rotate(7 174 56)"/><ellipse cx="170" cy="154" rx="10" ry="7" transform="rotate(109 170 154)"/><ellipse cx="198" cy="133" rx="7" ry="4" transform="rotate(-26 198 133)"/><ellipse cx="202" cy="114" rx="13" ry="8" transform="rotate(-39 202 114)"/><ellipse cx="318" cy="69" rx="11" ry="6" transform="rotate(18 318 69)"/><ellipse cx="215" cy="76" rx="9" ry="6" transform="rotate(-25 215 76)"/><ellipse cx="117" cy="123" rx="12" ry="8" transform="rotate(-7 117 123)"/></g></g>
 <g id="balls" fill="url(#gYb)"><circle cx="21.4" cy="111.8" r="6.1"/> <circle cx="60.3" cy="112.4" r="4.7"/> <circle cx="259.2" cy="129.7" r="4.2"/> <circle cx="108.1" cy="81.1" r="6.0"/> <circle cx="361.8" cy="61.3" r="4.7"/> <circle cx="72.1" cy="136.9" r="4.5"/> <circle cx="257.1" cy="146.8" r="4.6"/> <circle cx="146.0" cy="94.6" r="4.5"/> <circle cx="147.2" cy="134.5" r="4.2"/> <circle cx="321.2" cy="90.8" r="4.8"/> <circle cx="386.2" cy="114.3" r="4.8"/> <circle cx="230.3" cy="151.3" r="4.3"/> <circle cx="177.2" cy="130.5" r="4.2"/> <circle cx="449.3" cy="67.4" r="4.6"/> <circle cx="167.1" cy="93.5" r="5.2"/> <circle cx="432.2" cy="91.1" r="6.0"/> <circle cx="259.9" cy="86.6" r="4.8"/> <circle cx="254.5" cy="102.0" r="4.7"/> <circle cx="218.5" cy="104.6" r="4.3"/> <circle cx="68.3" cy="155.7" r="6.1"/> <circle cx="144.2" cy="109.8" r="6.2"/> <circle cx="345.0" cy="114.0" r="4.8"/> <circle cx="194.6" cy="59.2" r="4.1"/> <circle cx="297.7" cy="117.4" r="4.9"/> <circle cx="49.2" cy="79.9" r="4.7"/> <circle cx="408.7" cy="94.6" r="5.8"/> <circle cx="175.9" cy="151.2" r="4.8"/> <circle cx="276.3" cy="36.9" r="4.3"/> <circle cx="123.8" cy="145.8" r="5.1"/> <circle cx="376.5" cy="92.4" r="5.5"/> <circle cx="169.7" cy="174.1" r="5.9"/> <circle cx="449.9" cy="120.5" r="5.3"/> <circle cx="84.8" cy="173.0" r="6.1"/> <circle cx="276.4" cy="144.8" r="5.0"/> <circle cx="302.2" cy="153.9" r="4.3"/> <circle cx="81.9" cy="107.8" r="5.5"/> <circle cx="109.2" cy="148.2" r="5.5"/> <circle cx="69.7" cy="87.4" r="4.6"/> <circle cx="290.6" cy="132.4" r="4.7"/> <circle cx="195.3" cy="81.0" r="5.0"/> <circle cx="291.5" cy="50.6" r="4.3"/> <circle cx="201.6" cy="169.1" r="5.5"/> <circle cx="178.7" cy="58.4" r="4.4"/> <circle cx="207.4" cy="72.3" r="3.9"/> <circle cx="457.3" cy="97.7" r="6.1"/> <circle cx="430.2" cy="133.3" r="4.7"/> <circle cx="134.5" cy="189.3" r="5.8"/> <circle cx="124.6" cy="110.2" r="6.0"/> <circle cx="418.2" cy="125.0" r="4.2"/> <circle cx="367.6" cy="105.6" r="5.4"/> <circle cx="335.2" cy="139.3" r="5.2"/> <circle cx="189.0" cy="175.6" r="4.6"/> <circle cx="145.0" cy="172.0" r="4.3"/> <circle cx="160.8" cy="60.3" r="4.4"/> <circle cx="114.3" cy="170.2" r="5.8"/> <circle cx="314.6" cy="39.2" r="4.6"/> <circle cx="332.0" cy="43.1" r="4.8"/> <circle cx="432.1" cy="59.7" r="4.4"/> <circle cx="58.0" cy="97.6" r="4.3"/> <circle cx="34.6" cy="129.9" r="5.7"/> <circle cx="413.8" cy="57.2" r="4.1"/> <circle cx="330.2" cy="59.9" r="4.4"/> <circle cx="129.6" cy="126.0" r="4.7"/> <circle cx="90.8" cy="152.7" r="5.5"/> <circle cx="47.4" cy="145.2" r="4.4"/> <circle cx="230.0" cy="88.3" r="5.8"/> <circle cx="387.1" cy="58.1" r="4.4"/> <circle cx="171.7" cy="73.8" r="4.0"/> <circle cx="291.6" cy="92.5" r="5.0"/> <circle cx="206.0" cy="111.8" r="4.4"/> <circle cx="79.5" cy="61.2" r="4.1"/> <circle cx="136.2" cy="61.7" r="3.9"/> <circle cx="178.5" cy="189.8" r="5.6"/> <circle cx="319.3" cy="112.8" r="6.1"/> <circle cx="344.9" cy="61.9" r="3.8"/> <circle cx="44.1" cy="101.2" r="6.1"/> <circle cx="83.5" cy="74.7" r="4.5"/> <circle cx="465.2" cy="120.6" r="4.9"/> <circle cx="90.9" cy="118.9" r="5.0"/> <circle cx="253.5" cy="48.9" r="4.0"/> <circle cx="403.8" cy="70.4" r="3.5"/> <circle cx="272.0" cy="97.1" r="5.5"/> <circle cx="389.8" cy="72.0" r="3.7"/> <circle cx="274.6" cy="75.5" r="3.6"/> <circle cx="355.6" cy="126.8" r="6.0"/></g>
</g>

<g fill="#000" font-size="24">
 <text transform="translate(9,69) rotate(17.5)" font-size="29" letter-spacing="0.5">Fuel electrode</text>
 <text transform="translate(9.5,179) rotate(20.5)" font-size="29" letter-spacing="0.6">Electrolyte</text>
 <text transform="translate(9.5,278) rotate(27.6)" font-size="29" letter-spacing="0.75">Air electrode</text>
</g>
<!-- dashed zoom lines -->
<g stroke="#5b60a6" stroke-width="3" stroke-dasharray="13 7" fill="none">
 <path d="M298,90 L542,33.5"/>
 <path d="M298,90 L542,344.5"/>
 <rect x="542" y="33" width="719" height="311.5" rx="4"/>
</g>
<circle cx="303.5" cy="94" r="6" fill="url(#gYb)"/><circle cx="317.5" cy="108" r="5.5" fill="url(#gYb)"/>


<!-- ====== (a) right: dome + sphere ====== -->
<g id="paR">
 <clipPath id="cpS"><rect x="540" y="100" width="300" height="242"/></clipPath>
 <g clip-path="url(#cpS)">
 <circle cx="713" cy="262.5" r="85" fill="url(#gGa)"/>
 <ellipse cx="681" cy="204" rx="22" ry="12" transform="rotate(-25 681 204)" fill="url(#gWh)"/>
 <circle cx="724" cy="254" r="16" fill="url(#gSpot)"/>
 </g>
 <path d="M544,343 C560,322 592,298 628.3,283.3 C690,268 750,255 798.4,249.3 C830,249 880,259 925,278 C962,294 998,316 1019,343 Z" fill="url(#gDome)"/>
 <clipPath id="cpDome"><path d="M544,343 C560,322 592,298 628.3,283.3 C690,268 750,255 798.4,249.3 C830,249 880,259 925,278 C962,294 998,316 1019,343 Z"/></clipPath>
 <ellipse cx="664" cy="333" rx="62" ry="24" fill="url(#gDomeHi)" clip-path="url(#cpDome)"/>
 <!-- orange double arrow -->
 <path d="M598.5,122.3 L635.4,139.3 L628,144 C648,160 680,175 720,170 L718,181.5 C670,184 630,172 604.2,153.9 L595.7,156.4 Z" fill="url(#gPeachL)"/>
 <path d="M814.3,122.3 L777.4,139.3 L784.8,144 C764.8,160 732.8,175 692.8,170 L694.8,181.5 C742.8,184 782.8,172 808.6,153.9 L817.1,156.4 Z" fill="url(#gPeachR)"/>
 <!-- CO2 left -->
 <g>
  <line x1="572.6" y1="70.3" x2="582.1" y2="79.1" stroke="#d01818" stroke-width="1.6"/><line x1="582.1" y1="79.1" x2="591.6" y2="87.8" stroke="#8a8a8a" stroke-width="1.6"/><line x1="570.4" y1="72.7" x2="579.9" y2="81.4" stroke="#d01818" stroke-width="1.6"/><line x1="579.9" y1="81.4" x2="589.4" y2="90.2" stroke="#8a8a8a" stroke-width="1.6"/>
  <line x1="591.7" y1="87.9" x2="600.7" y2="97.4" stroke="#8a8a8a" stroke-width="1.6"/><line x1="600.7" y1="97.4" x2="609.8" y2="106.9" stroke="#d01818" stroke-width="1.6"/><line x1="589.3" y1="90.1" x2="598.4" y2="99.6" stroke="#8a8a8a" stroke-width="1.6"/><line x1="598.4" y1="99.6" x2="607.4" y2="109.1" stroke="#d01818" stroke-width="1.6"/>
  <circle cx="571.5" cy="71.5" r="10.5" fill="url(#gR)"/>
  <circle cx="590.5" cy="89" r="10.5" fill="url(#gC)"/>
  <circle cx="608.6" cy="108" r="10.5" fill="url(#gR)"/>
 </g>
 <!-- CO right -->
 <g>
  <line x1="795.4" y1="69.7" x2="801.3" y2="87.1" stroke="#d01818" stroke-width="1.6"/><line x1="801.3" y1="87.1" x2="807.2" y2="104.4" stroke="#8a8a8a" stroke-width="1.6"/><line x1="792.0" y1="70.9" x2="797.9" y2="88.2" stroke="#d01818" stroke-width="1.6"/><line x1="797.9" y1="88.2" x2="803.8" y2="105.6" stroke="#8a8a8a" stroke-width="1.6"/>
  <circle cx="793.7" cy="70.3" r="11.3" fill="url(#gR)"/>
  <circle cx="805.5" cy="105" r="12" fill="url(#gC)"/>
 </g>
 <text x="548" y="196.3" font-size="30" font-style="italic" fill="#a3282c" stroke="#a3282c" stroke-width="0.4" letter-spacing="0.5">SOFC</text>
 <text x="770" y="196.3" font-size="30" font-style="italic" fill="#a3282c" stroke="#a3282c" stroke-width="0.4" letter-spacing="0.5">SOEC</text>
 <!-- e- arrow -->
 <path d="M769.5,319 C770,285 752,258 725,245" fill="none" stroke="#1010d0" stroke-width="3.2"/>
 <path d="M713.5,238.5 L732,238 L721.5,253 Z" fill="#1010d0"/>
 <text x="721" y="319.5" font-size="40" fill="#1010e0">e</text>
 <text x="738.5" y="307.5" font-size="20" fill="#1010e0">-</text>
 <!-- O2- arrow -->
 <path d="M804,257 C812,285 835,307 864,316" fill="none" stroke="#111" stroke-width="2.6"/>
 <path d="M877,320.3 L861,323.5 L866.5,309.5 Z" fill="#111"/>
 <text x="879.5" y="317.4" font-size="35" fill="#ee1111">O</text>
 <text x="904.5" y="305.6" font-size="20" fill="#ee1111">2-</text>
</g>

<!-- ====== (a) circle ====== -->
<g id="circ">
 <circle cx="1118.5" cy="188.5" r="133.5" fill="url(#gCirc)" stroke="#c6e6a4" stroke-width="2"/>
 <line x1="1025.4" y1="194.1" x2="1224" y2="194.1" stroke="#111" stroke-width="3.2" stroke-dasharray="16.6 7.5"/>
 <path d="M1011,194.1 L1028,187.5 L1028,200.7 Z" fill="#111"/>
 <path d="M1236,194.1 L1219,187.5 L1219,200.7 Z" fill="#111"/>
 <line x1="1119.7" y1="125" x2="1119.7" y2="257" stroke="#575b66" stroke-width="3.6" stroke-dasharray="10.5 3.5"/>
 <path d="M1119.7,114.6 L1113.9,126.4 L1125.5,126.4 Z" fill="#575b66"/>
 <path d="M1119.7,267.4 L1113.9,256.7 L1125.5,256.7 Z" fill="#575b66"/>
 <text x="1064" y="170.4" font-size="38" fill="#ad2a2e">Fe</text>
 <text x="1133" y="170.4" font-size="38" fill="#ad2a2e">Ni</text>
 <text x="1064" y="236.3" font-size="38" fill="#ad2a2e">Co</text>
 <text x="1134" y="236.3" font-size="38" fill="#ad2a2e">Cu</text>
 <path id="arcTop" d="M1027.3,136 A105,105 0 0 1 1209.7,136" fill="none"/>
 <path id="arcBot" d="M1026,264 A112,112 0 0 0 1220,264" fill="none"/>
 <text font-size="39" fill="#111" stroke="#111" stroke-width="0.5" filter="url(#sh)"><textPath href="#arcTop" startOffset="50%" text-anchor="middle">Activity</textPath></text>
 <text font-size="38" font-style="italic" fill="#111" stroke="#111" stroke-width="0.9" filter="url(#sh)" letter-spacing="0.5"><textPath href="#arcBot" startOffset="50%" text-anchor="middle">Stability</textPath></text>
</g>

<text x="2" y="37" font-size="50">(a)</text>

<!-- ============ PANEL (b) ============ -->
<rect x="0" y="366" width="629.5" height="427" fill="#f4f1ee"/>
<rect x="0" y="706" width="629.5" height="87" fill="#e8dbd3"/>
<circle cx="317" cy="464" r="52" fill="url(#gG)"/>
<ellipse cx="298" cy="427" rx="12" ry="6" transform="rotate(-30 298 427)" fill="url(#gWh)"/>
<circle cx="325" cy="457" r="10" fill="url(#gWh)"/>
<ellipse cx="293" cy="489" rx="7" ry="5" transform="rotate(40 293 489)" fill="url(#gWh)"/>
<rect x="0" y="496.6" width="629.5" height="209.4" fill="url(#gBand)"/>

<g id="pb">
<circle cx="26.5" cy="421.3" r="9.5" fill="url(#gH)"/><circle cx="11.4" cy="430.9" r="9.5" fill="url(#gH)"/>
<circle cx="601.4" cy="420" r="9.5" fill="url(#gH)"/><circle cx="616.6" cy="431.4" r="9.5" fill="url(#gH)"/>
<circle cx="120.5" cy="442" r="10" fill="url(#gH)"/><circle cx="146.5" cy="442" r="10" fill="url(#gH)"/><circle cx="133" cy="451" r="12.5" fill="url(#gR)"/>
<circle cx="483.1" cy="442" r="10" fill="url(#gH)"/><circle cx="509.1" cy="442" r="10" fill="url(#gH)"/><circle cx="495.6" cy="451" r="12.5" fill="url(#gR)"/>

<g stroke="#111" stroke-width="2.3" fill="none">
 <path d="M49.2,636 L49.2,566"/>
 <path d="M585.3,636 L585.3,567"/>
 <path d="M68,526.7 L133,512.7"/>
 <path d="M187,501.7 L253.5,487.9"/>
 <path d="M447,502.3 L382,489"/>
 <path d="M569.2,526.7 L500.5,511.1"/>
 <path d="M18.2,446 C17,475 24,492 35,502"/>
 <path d="M64.4,493.4 C90,498 112,488 124,476"/>
 <path d="M615.3,445 C618,470 612,490 598,505"/>
 <path d="M569.2,494.5 C545,498 522,488 510,476"/>
</g>
<g fill="#111">
 <path d="M49.2,554 L43,568 L55.4,568 Z"/>
 <path d="M585.3,554.9 L579.1,569 L591.5,569 Z"/>
 <path d="M144.8,510.2 L131.4,506 L134.2,519.4 Z"/>
 <path d="M265.4,485.4 L251.9,481.3 L254.8,494.7 Z"/>
 <path d="M370,486.6 L383.6,482.7 L380.6,496 Z"/>
 <path d="M488.7,508.6 L502.3,504.6 L499.4,518 Z"/>
 <path d="M41.6,509.6 L29.5,503 L40,496 Z"/>
 <path d="M131.2,470 L119.5,473.5 L127.8,481 Z"/>
 <path d="M591.3,512.6 L594,499 L603.5,506.5 Z"/>
 <path d="M502.8,469.2 L505.5,481.5 L514,474 Z"/>
</g>

<circle cx="168" cy="505.6" r="15.7" fill="url(#gG)"/><circle cx="466" cy="505.7" r="15.6" fill="url(#gG)"/>
<circle cx="49.8" cy="530.7" r="15" fill="url(#gO)"/><circle cx="53.5" cy="528.9" r="3.0" fill="url(#gWh)"/><ellipse cx="42.3" cy="522.5" rx="3.3" ry="1.3" transform="rotate(-40 42.3 522.5)" fill="#fff" opacity="0.55"/><ellipse cx="41.5" cy="538.2" rx="2.7" ry="1.2" transform="rotate(45 41.5 538.2)" fill="#fff" opacity="0.5"/>
<circle cx="49.2" cy="657.3" r="15" fill="url(#gO)"/><circle cx="53.0" cy="655.5" r="3.0" fill="url(#gWh)"/><ellipse cx="41.7" cy="649.0" rx="3.3" ry="1.3" transform="rotate(-40 41.7 649.0)" fill="#fff" opacity="0.55"/><ellipse cx="41.0" cy="664.8" rx="2.7" ry="1.2" transform="rotate(45 41.0 664.8)" fill="#fff" opacity="0.5"/>
<circle cx="147.8" cy="657.3" r="15" fill="url(#gO)"/><circle cx="151.6" cy="655.5" r="3.0" fill="url(#gWh)"/><ellipse cx="140.3" cy="649.0" rx="3.3" ry="1.3" transform="rotate(-40 140.3 649.0)" fill="#fff" opacity="0.55"/><ellipse cx="139.6" cy="664.8" rx="2.7" ry="1.2" transform="rotate(45 139.6 664.8)" fill="#fff" opacity="0.5"/>
<circle cx="261.8" cy="682" r="15" fill="url(#gO)"/><circle cx="265.6" cy="680.2" r="3.0" fill="url(#gWh)"/><ellipse cx="254.3" cy="673.8" rx="3.3" ry="1.3" transform="rotate(-40 254.3 673.8)" fill="#fff" opacity="0.55"/><ellipse cx="253.6" cy="689.5" rx="2.7" ry="1.2" transform="rotate(45 253.6 689.5)" fill="#fff" opacity="0.5"/>
<circle cx="366" cy="681.6" r="15" fill="url(#gO)"/><circle cx="369.8" cy="679.8" r="3.0" fill="url(#gWh)"/><ellipse cx="358.5" cy="673.4" rx="3.3" ry="1.3" transform="rotate(-40 358.5 673.4)" fill="#fff" opacity="0.55"/><ellipse cx="357.8" cy="689.1" rx="2.7" ry="1.2" transform="rotate(45 357.8 689.1)" fill="#fff" opacity="0.5"/>
<circle cx="500" cy="657.4" r="15" fill="url(#gO)"/><circle cx="503.8" cy="655.6" r="3.0" fill="url(#gWh)"/><ellipse cx="492.5" cy="649.1" rx="3.3" ry="1.3" transform="rotate(-40 492.5 649.1)" fill="#fff" opacity="0.55"/><ellipse cx="491.8" cy="664.9" rx="2.7" ry="1.2" transform="rotate(45 491.8 664.9)" fill="#fff" opacity="0.5"/>
<circle cx="585.3" cy="657.4" r="15" fill="url(#gO)"/><circle cx="589.0" cy="655.6" r="3.0" fill="url(#gWh)"/><ellipse cx="577.8" cy="649.1" rx="3.3" ry="1.3" transform="rotate(-40 577.8 649.1)" fill="#fff" opacity="0.55"/><ellipse cx="577.0" cy="664.9" rx="2.7" ry="1.2" transform="rotate(45 577.0 664.9)" fill="#fff" opacity="0.5"/>
<circle cx="585.3" cy="530.7" r="15" fill="url(#gO)"/><circle cx="589.0" cy="528.9" r="3.0" fill="url(#gWh)"/><ellipse cx="577.8" cy="522.5" rx="3.3" ry="1.3" transform="rotate(-40 577.8 522.5)" fill="#fff" opacity="0.55"/><ellipse cx="577.0" cy="538.2" rx="2.7" ry="1.2" transform="rotate(45 577.0 538.2)" fill="#fff" opacity="0.5"/>
<circle cx="80.5" cy="639" r="13" fill="url(#gR)"/><circle cx="83.8" cy="637.4" r="2.6" fill="url(#gWh)"/><ellipse cx="74.0" cy="631.9" rx="2.9" ry="1.2" transform="rotate(-40 74.0 631.9)" fill="#fff" opacity="0.55"/><ellipse cx="73.3" cy="645.5" rx="2.3" ry="1.0" transform="rotate(45 73.3 645.5)" fill="#fff" opacity="0.5"/>
<circle cx="179.5" cy="639" r="13" fill="url(#gR)"/><circle cx="182.8" cy="637.4" r="2.6" fill="url(#gWh)"/><ellipse cx="173.0" cy="631.9" rx="2.9" ry="1.2" transform="rotate(-40 173.0 631.9)" fill="#fff" opacity="0.55"/><ellipse cx="172.3" cy="645.5" rx="2.3" ry="1.0" transform="rotate(45 172.3 645.5)" fill="#fff" opacity="0.5"/>
<circle cx="236.8" cy="656.4" r="13" fill="url(#gR)"/><circle cx="240.1" cy="654.8" r="2.6" fill="url(#gWh)"/><ellipse cx="230.3" cy="649.2" rx="2.9" ry="1.2" transform="rotate(-40 230.3 649.2)" fill="#fff" opacity="0.55"/><ellipse cx="229.7" cy="662.9" rx="2.3" ry="1.0" transform="rotate(45 229.7 662.9)" fill="#fff" opacity="0.5"/>
<circle cx="390.2" cy="656.6" r="13" fill="url(#gR)"/><circle cx="393.4" cy="655.0" r="2.6" fill="url(#gWh)"/><ellipse cx="383.7" cy="649.5" rx="2.9" ry="1.2" transform="rotate(-40 383.7 649.5)" fill="#fff" opacity="0.55"/><ellipse cx="383.1" cy="663.1" rx="2.3" ry="1.0" transform="rotate(45 383.1 663.1)" fill="#fff" opacity="0.5"/>
<circle cx="468.6" cy="639.3" r="13" fill="url(#gR)"/><circle cx="471.9" cy="637.7" r="2.6" fill="url(#gWh)"/><ellipse cx="462.1" cy="632.1" rx="2.9" ry="1.2" transform="rotate(-40 462.1 632.1)" fill="#fff" opacity="0.55"/><ellipse cx="461.5" cy="645.8" rx="2.3" ry="1.0" transform="rotate(45 461.5 645.8)" fill="#fff" opacity="0.5"/>
<circle cx="79.9" cy="564.4" r="11" fill="#fff" stroke="#e05cb4" stroke-width="2.6"/>
<circle cx="134.8" cy="623.3" r="11" fill="#fff" stroke="#e05cb4" stroke-width="2.6"/>
<circle cx="278" cy="647.4" r="11" fill="#fff" stroke="#e05cb4" stroke-width="2.6"/>
<circle cx="348" cy="647.4" r="11" fill="#fff" stroke="#e05cb4" stroke-width="2.6"/>
<circle cx="512.9" cy="623.3" r="11" fill="#fff" stroke="#e05cb4" stroke-width="2.6"/>
<circle cx="554.3" cy="565" r="11" fill="#fff" stroke="#e05cb4" stroke-width="2.6"/>
<text x="2" y="396" font-size="48">(b)</text>
<text x="131" y="401" font-size="26.8" font-style="italic" fill="#111" filter="url(#sh2)">Formation of Alloy Nanoparticles</text>
<text x="278" y="522.4" font-size="24" fill="#111">growth</text>
<text transform="translate(126,549.7) rotate(-12.8)" font-size="23.5" fill="#111">nucleation</text>
<text transform="translate(403,528) rotate(10.8)" font-size="23.5" fill="#111">nucleation</text>
<text transform="translate(30.3,641) rotate(-90)" font-size="24" fill="#111">diffusion</text>
<text transform="translate(616.3,640.5) rotate(-90)" font-size="24" fill="#111">diffusion</text>
<text x="34" y="758" font-size="32.5" fill="#000">SFCNCM</text>
<text x="386" y="758.2" font-size="32" fill="#000">RP-SFM + Alloy</text>
<text x="227" y="738" font-size="29.5" font-style="italic" fill="#a3282c" filter="url(#sh2)">Reduction</text>
<line x1="204.4" y1="749.6" x2="346" y2="749.6" stroke="#1414d2" stroke-width="3.2"/>
<path d="M361,749.6 L342,740.5 L342,758.7 Z" fill="#1414d2"/>
</g>
<!-- ============ PANEL (c) ============ -->
<rect x="638" y="366" width="630" height="427" fill="#f4f1ee"/>
<rect x="638" y="497" width="630" height="209" fill="url(#gCyan)"/>
<rect x="638" y="706" width="630" height="87" fill="#e8dbd3"/>

<g id="pc">
 <clipPath id="cpBowl"><rect x="638" y="497" width="630" height="209"/></clipPath>
 <clipPath id="cpEll"><ellipse cx="951" cy="410" rx="314" ry="221"/></clipPath>
 <ellipse cx="951" cy="410" rx="314" ry="221" fill="#fff" clip-path="url(#cpBowl)"/>
 <g clip-path="url(#cpEll)">
  <circle cx="953.8" cy="612" r="42" fill="url(#gG2)"/>
  <ellipse cx="937" cy="583" rx="9" ry="4.5" transform="rotate(-28 937 583)" fill="url(#gWh)"/>
 </g>
 <!-- dashed box -->
 <rect x="835.4" y="461.4" width="244.4" height="193.6" fill="none" stroke="#6668ac" stroke-width="2.2" stroke-dasharray="9.4 5.6"/>
 <text x="878" y="486.5" font-size="24.3" fill="#111">CO<tspan font-size="14" dy="7.5">2</tspan><tspan dy="-7.5"> dissociation</tspan></text>
 <!-- bonds to sphere -->
 <line x1="896" y1="552" x2="926" y2="584" stroke="#b03030" stroke-width="2.4"/>
 <line x1="984" y1="584" x2="1025" y2="556" stroke="#b03030" stroke-width="2.4"/>
 <!-- dashed black bond O..vacancy -->
 <line x1="861.8" y1="580" x2="861.8" y2="621" stroke="#111" stroke-width="2.6" stroke-dasharray="7 4"/>
 <circle cx="861.4" cy="632.7" r="10.5" fill="#fff" stroke="#e05cb4" stroke-width="2.6"/>
 <!-- adsorbed CO2 -->
 <g><line x1="861.2" y1="566.7" x2="878.0" y2="558.0" stroke="#d01818" stroke-width="1.8"/><line x1="878.0" y1="558.0" x2="894.9" y2="549.3" stroke="#8a8a8a" stroke-width="1.8"/><line x1="862.8" y1="569.9" x2="879.7" y2="561.2" stroke="#d01818" stroke-width="1.8"/><line x1="879.7" y1="561.2" x2="896.5" y2="552.5" stroke="#8a8a8a" stroke-width="1.8"/><line x1="910.8" y1="518.7" x2="904.1" y2="535.1" stroke="#d01818" stroke-width="1.8"/><line x1="904.1" y1="535.1" x2="897.4" y2="551.6" stroke="#8a8a8a" stroke-width="1.8"/><line x1="907.4" y1="517.3" x2="900.7" y2="533.8" stroke="#d01818" stroke-width="1.8"/><line x1="900.7" y1="533.8" x2="894.0" y2="550.2" stroke="#8a8a8a" stroke-width="1.8"/></g>
 <circle cx="862" cy="568.3" r="11.5" fill="url(#gR)"/><circle cx="895.7" cy="550.9" r="11.8" fill="url(#gC)"/><circle cx="909.1" cy="518" r="11.4" fill="url(#gR)"/>
 <!-- adsorbed CO right -->
 <line x1="1024.2" y1="554.7" x2="1038.2" y2="543.8" stroke="#8a8a8a" stroke-width="1.8"/><line x1="1038.2" y1="543.8" x2="1052.3" y2="532.9" stroke="#d01818" stroke-width="1.8"/><line x1="1026.4" y1="557.5" x2="1040.5" y2="546.6" stroke="#8a8a8a" stroke-width="1.8"/><line x1="1040.5" y1="546.6" x2="1054.5" y2="535.7" stroke="#d01818" stroke-width="1.8"/>
 <circle cx="1025.3" cy="556.1" r="12" fill="url(#gC)"/><circle cx="1053.4" cy="534.3" r="12" fill="url(#gR)"/>
 <!-- free CO2 (left) -->
 <circle cx="725.2" cy="485" r="12.8" fill="url(#gC)"/><circle cx="698.8" cy="507.8" r="12.8" fill="url(#gC)"/><ellipse cx="711.6" cy="496.4" rx="10" ry="11.5" transform="rotate(-40.8 711.6 496.4)" fill="url(#gR)"/>
 <!-- desorbed CO -->
 <circle cx="1192.4" cy="506.1" r="13" fill="url(#gC)"/><circle cx="1206.3" cy="494.7" r="12" fill="url(#gR)"/>
 <!-- activation arrow -->
 <path d="M722.5,545.6 C738,570 770,590 810,591.3" fill="none" stroke="#111" stroke-width="3"/>
 <path d="M822,591.3 L806,583 L807,599.5 Z" fill="#111"/>
 <path id="pAct" d="M733,530 C750,553 780,572 832,576" fill="none"/>
 <text font-size="23.5" fill="#111" stroke="#111" stroke-width="0.8" filter="url(#sh2)" letter-spacing="-1.3"><textPath href="#pAct">Activiation</textPath></text>
 <!-- desorption arrow -->
 <path d="M1087,596 C1120,590 1150,575 1173,551" fill="none" stroke="#111" stroke-width="3"/>
 <path d="M1181.8,542.9 L1167,548 L1177,558 Z" fill="#111"/>
 <path id="pDes" d="M1083,587 C1115,584 1140,574 1158,552 L1185,515" fill="none"/>
 <text font-size="24" fill="#111" stroke="#111" stroke-width="0.8" filter="url(#sh2)" letter-spacing="-1.3"><textPath href="#pDes">Desorption</textPath></text>
 <!-- O2- purple arrow -->
 <path d="M1058.3,619.6 C1068,632 1073,648 1072,660 C1071,668 1069,673 1066,678" fill="none" stroke="#6c6cba" stroke-width="2.2"/>
 <path d="M1072.5,681 L1060,674.5 L1060.5,689.5 Z" fill="#7272c6"/>
 <text x="1014.7" y="702.3" font-size="35" fill="#ee1111">O<tspan font-size="20.5" dy="-10.7" x="1040.6">2-</tspan></text>
 <!-- titles -->
 <text x="638" y="394.5" font-size="49">(c)</text>
 <text x="765" y="399.3" font-size="26.8" font-style="italic" fill="#111" filter="url(#sh2)">CO<tspan font-size="15" dy="6">2</tspan><tspan dy="-6"> Reduction on Active Interfaces</tspan></text>
 <!-- bottom equation -->
 <text x="678" y="758" font-size="32" fill="#000">*CO<tspan font-size="18" dy="7">2</tspan><tspan dy="-7"> (ad) + Vo</tspan></text>
 <text x="1028.5" y="758" font-size="31.7" fill="#000">*CO (ad) + *O</text>
 <line x1="905.1" y1="739.6" x2="997" y2="739.6" stroke="#e01818" stroke-width="3"/>
 <path d="M1009.4,739.6 L994.9,732.4 L994.9,746.8 Z" fill="#e01818"/>
 <line x1="918" y1="754.3" x2="1010" y2="754.3" stroke="#e01818" stroke-width="3"/>
 <path d="M905.7,754.3 L920.1,747.1 L920.1,761.5 Z" fill="#e01818"/>
 <text x="917" y="729.5" font-size="28.5" font-style="italic" fill="#a3282c" filter="url(#sh2)">SOEC</text>
 <text x="917" y="786.2" font-size="28.5" font-style="italic" fill="#a3282c" filter="url(#sh2)">SOFC</text>
</g>
</svg>
</body></html>
